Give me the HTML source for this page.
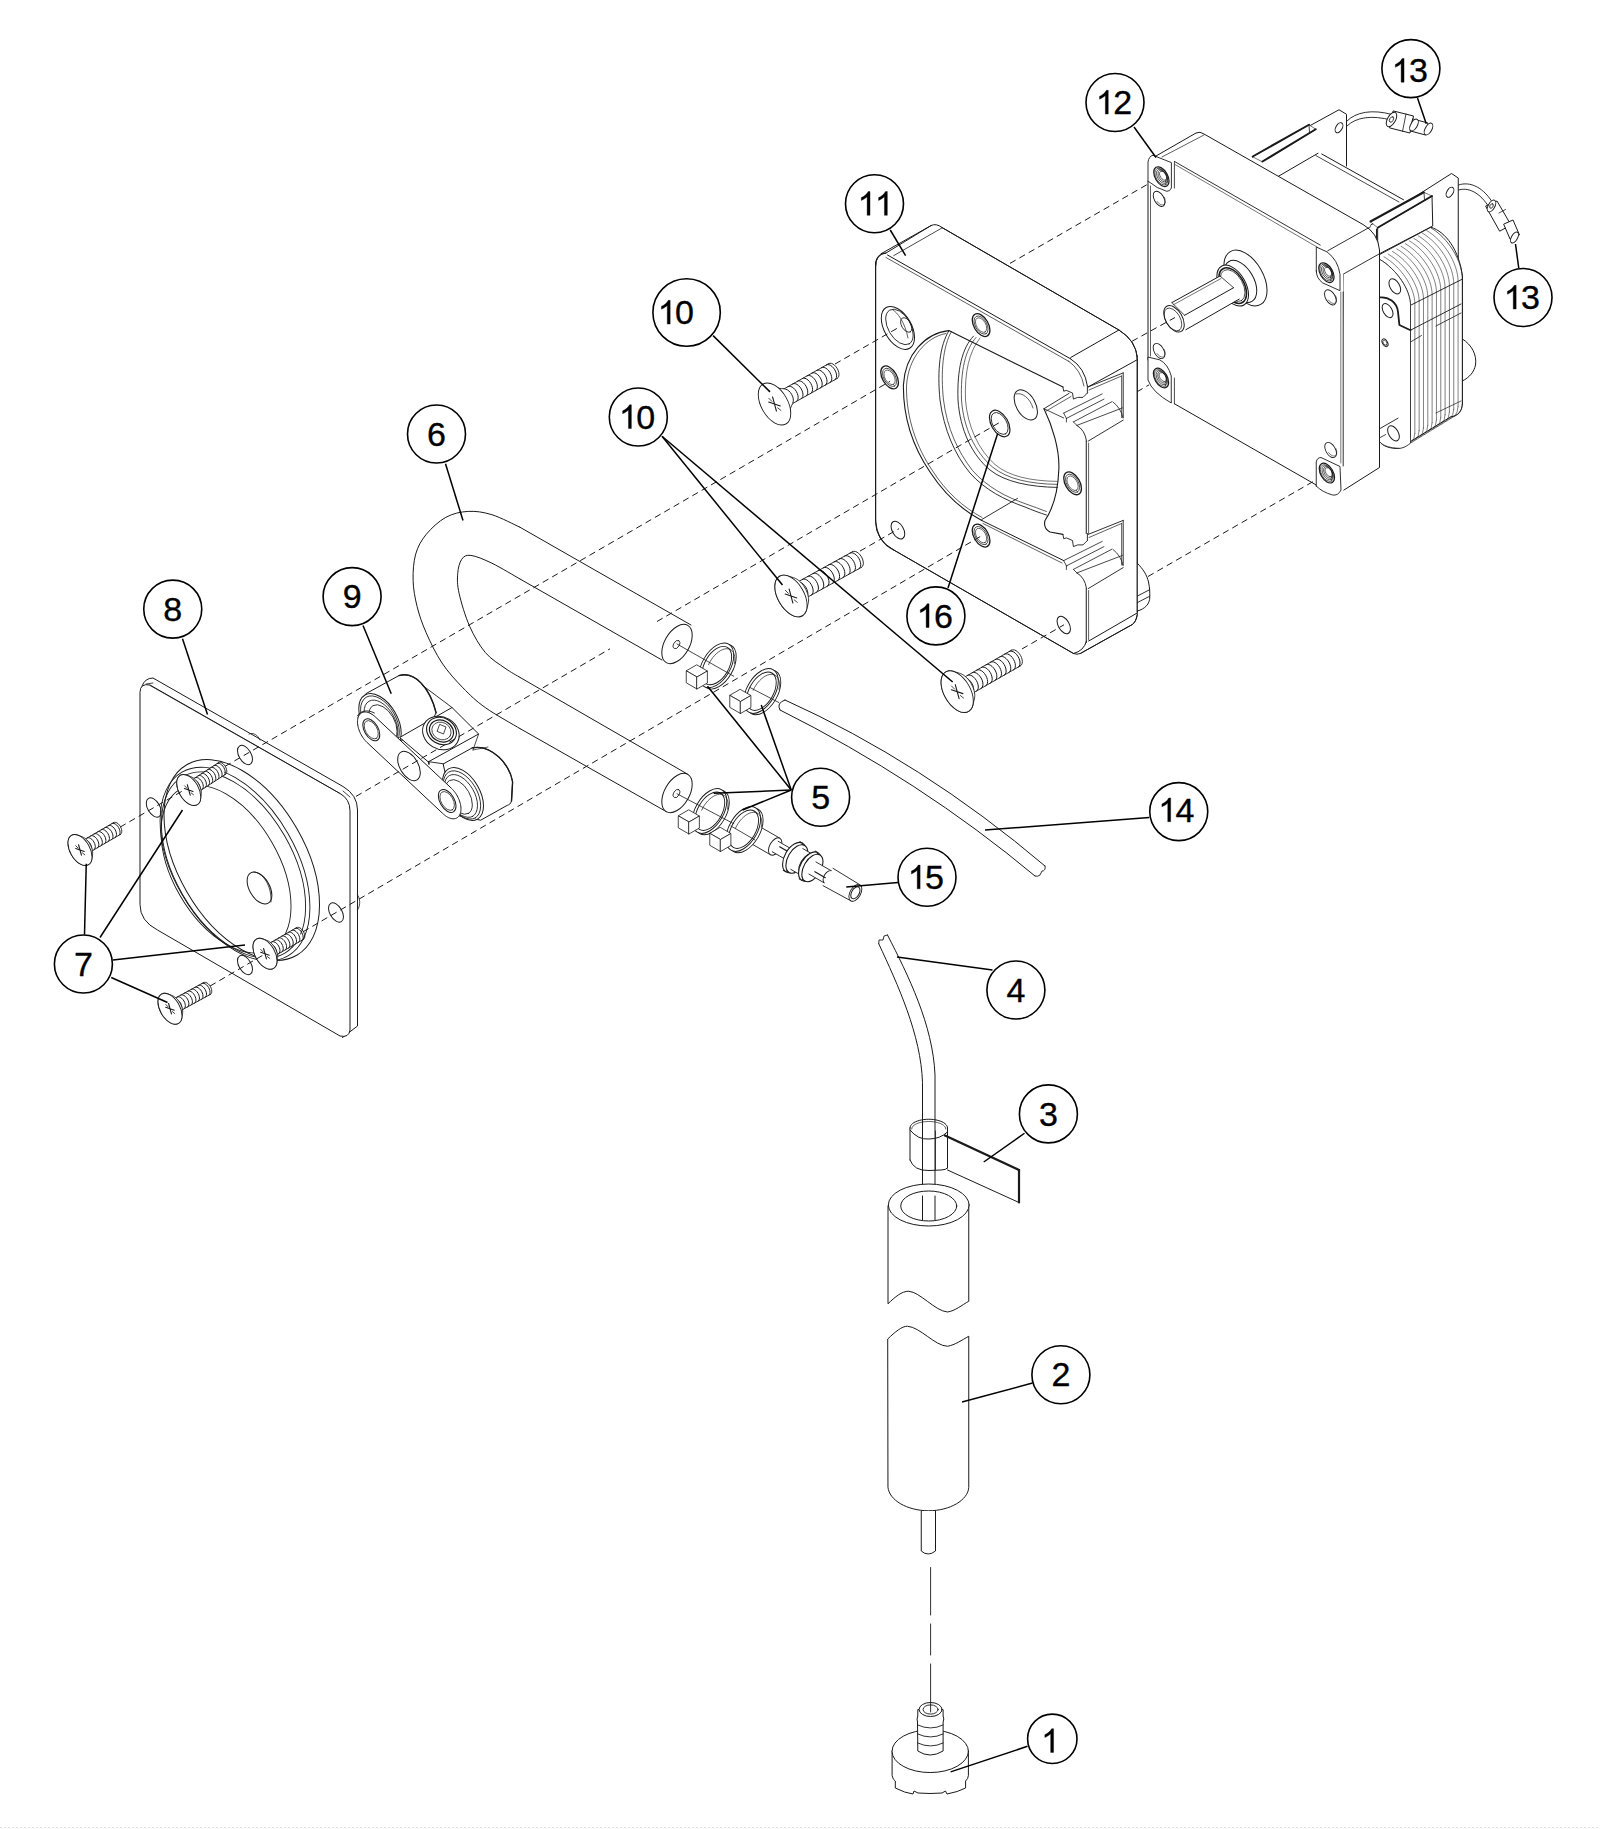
<!DOCTYPE html>
<html><head><meta charset="utf-8"><style>
html,body{margin:0;padding:0;background:#fff;}
body{width:1600px;height:1829px;overflow:hidden;position:relative;}
svg{position:absolute;left:0;top:0;}
.g line,.g polyline,.g path,.g ellipse,.g circle,.g polygon{fill:none;stroke:#1a1a1a;stroke-width:1;stroke-linejoin:round;stroke-linecap:round;}
.g line.d{stroke-dasharray:6.5 4.3;stroke-linecap:butt;}
.c circle{fill:#fff;stroke:#000;stroke-width:1.6;}
.c line{stroke:#000;stroke-width:1.5;}
.c text{font-family:"Liberation Sans",sans-serif;font-size:34px;fill:#000;stroke:#000;stroke-width:0.35px;}
.c polygon.one{fill:#000;stroke:#000;stroke-width:0.35px;}
</style></head><body>
<svg width="1600" height="1829" viewBox="0 0 1600 1829">
<g class="g">
<path d="M1462.4,339 C1472,345 1477,355 1475.5,365 C1474,372 1470,377 1462.4,381" style="fill:#fff"/>
<polygon points="1252.75,157 1339,109.75 1346.5,114.25 1346.5,175 1290,205 1252.75,190" style="stroke:none;fill:#fff"/>
<polyline points="1252.75,157 1339,109.75 1346.5,114.25 1346.5,166"/>
<ellipse cx="1339" cy="127.75" rx="5.5" ry="3.17" transform="rotate(-60 1339 127.75)"/>
<polygon points="1252.75,156.5 1309,124.75 1315.75,129.25 1262.5,161.5" style="stroke-width:0.6;fill:#fff"/>
<line x1="1252.75" y1="156.5" x2="1309" y2="124.75" style="stroke-width:2"/>
<line x1="1262.5" y1="161.5" x2="1315.75" y2="129.25" style="stroke-width:2"/>
<line x1="1309" y1="124.75" x2="1309.5" y2="132" style="stroke-width:0.8"/>
<path d="M1347,121 C1356,112 1372,109 1392,114.5" style="stroke-width:0.9"/>
<path d="M1347,126 C1356,117 1372,115 1391,120" style="stroke-width:0.9"/>
<polygon points="1393.5,111 1413.5,116 1410,133 1390,128" style="fill:#fff"/>
<ellipse cx="1391.5" cy="119.5" rx="8" ry="4" transform="rotate(-60 1391.5 119.5)" style="fill:#fff"/>
<ellipse cx="1391.5" cy="119.5" rx="3" ry="1.8" transform="rotate(-60 1391.5 119.5)" style="stroke-width:0.8"/>
<line x1="1406" y1="114" x2="1402.5" y2="131.5" style="stroke-width:0.8"/>
<polygon points="1413,119 1428,123 1425.5,135 1410.5,131" style="fill:#fff"/>
<ellipse cx="1414" cy="125" rx="6.5" ry="3.25" transform="rotate(-60 1414 125)" style="fill:#fff"/>
<ellipse cx="1428.5" cy="129" rx="6.5" ry="3.25" transform="rotate(-60 1428.5 129)" style="fill:#fff"/>
<polygon points="1276.75,177.25 1318,153.25 1321.75,154 1403.5,199.75 1403.5,250 1290,250" style="stroke:none;fill:#fff"/>
<line x1="1276.75" y1="177.25" x2="1318" y2="153.25"/>
<line x1="1321.75" y1="154" x2="1403.5" y2="199.75"/>
<line x1="1315.75" y1="155.5" x2="1399" y2="202" style="stroke-width:0.8"/>
<polygon points="1370.5,225.25 1451.5,173.5 1458.25,178 1458.25,430 1376.5,445" style="stroke:none;fill:#fff"/>
<polyline points="1370.5,225.25 1451.5,173.5 1458.25,178 1458.25,300"/>
<line x1="1376.5" y1="229" x2="1376.5" y2="256"/>
<ellipse cx="1450" cy="192.25" rx="5.5" ry="3.17" transform="rotate(-60 1450 192.25)"/>
<path d="M1458.5,185 C1470,181 1484,187 1494,205" style="stroke-width:0.9"/>
<path d="M1458.5,190 C1468,187 1480,192 1489.5,208" style="stroke-width:0.9"/>
<polygon points="1486,206 1497,201 1511,225 1500,231" style="fill:#fff"/>
<ellipse cx="1491.5" cy="206" rx="6.5" ry="3.25" transform="rotate(-60 1491.5 206)" style="fill:#fff"/>
<ellipse cx="1491.5" cy="206" rx="2.5" ry="1.5" transform="rotate(-60 1491.5 206)" style="stroke-width:0.8"/>
<line x1="1499" y1="213" x2="1505.5" y2="209.5" style="stroke-width:0.8"/>
<polygon points="1504,224 1513,220 1519.5,235 1510.5,239" style="fill:#fff"/>
<ellipse cx="1514.5" cy="237.5" rx="6" ry="3" transform="rotate(-60 1514.5 237.5)" style="fill:#fff"/>
<polygon points="1378,227.5 1432,196 1432.75,226 1378,254.5" style="fill:#fff"/>
<polygon points="1370.5,221.5 1423.75,192.25 1432,196 1378,227.5" style="stroke-width:0.6;fill:#fff"/>
<line x1="1370.5" y1="221.5" x2="1423.75" y2="192.25" style="stroke-width:2"/>
<line x1="1378" y1="227.5" x2="1432" y2="196" style="stroke-width:2"/>
<line x1="1424" y1="192.5" x2="1424.5" y2="199.5" style="stroke-width:0.8"/>
<path d="M1379.7,254.5 L1430.9,227.2 C1446,232 1459,250 1462.4,276 L1462.4,404 C1462,411 1458,416 1450.5,417 L1399.4,448.3 C1390,449 1383,446 1379.7,442 Z" style="fill:#fff"/>
<path d="M1379.7,259.4 C1396.64,269.18 1410.5,289.84 1410.5,305.3" style="stroke-width:0.7"/>
<line x1="1410.5" y1="305.3" x2="1410.5" y2="436" style="stroke-width:0.55"/>
<path d="M1410.5,436 Q1410,447.8 1399.4,448.3" style="stroke-width:0.55"/>
<path d="M1383.97,256.77 C1400.94,266.57 1414.83,287.43 1414.83,303.12" style="stroke-width:0.55"/>
<line x1="1414.83" y1="303.12" x2="1414.83" y2="433.33" style="stroke-width:0.55"/>
<path d="M1414.83,433.33 Q1414.33,445.18 1403.66,445.68" style="stroke-width:0.55"/>
<path d="M1388.23,254.15 C1405.24,263.97 1419.15,285.02 1419.15,300.93" style="stroke-width:0.55"/>
<line x1="1419.15" y1="300.93" x2="1419.15" y2="430.67" style="stroke-width:0.55"/>
<path d="M1419.15,430.67 Q1418.65,442.57 1407.92,443.07" style="stroke-width:0.55"/>
<path d="M1392.5,251.52 C1409.54,261.36 1423.47,282.61 1423.47,298.75" style="stroke-width:0.55"/>
<line x1="1423.47" y1="298.75" x2="1423.47" y2="428" style="stroke-width:0.55"/>
<path d="M1423.47,428 Q1422.97,439.95 1412.18,440.45" style="stroke-width:0.55"/>
<path d="M1396.77,248.9 C1413.84,258.75 1427.8,280.2 1427.8,296.57" style="stroke-width:0.55"/>
<line x1="1427.8" y1="296.57" x2="1427.8" y2="425.33" style="stroke-width:0.55"/>
<path d="M1427.8,425.33 Q1427.3,437.33 1416.43,437.83" style="stroke-width:0.55"/>
<path d="M1401.03,246.27 C1418.13,256.15 1432.12,277.8 1432.12,294.38" style="stroke-width:0.55"/>
<line x1="1432.12" y1="294.38" x2="1432.12" y2="422.67" style="stroke-width:0.55"/>
<path d="M1432.12,422.67 Q1431.62,434.72 1420.69,435.22" style="stroke-width:0.55"/>
<path d="M1405.3,243.65 C1422.43,253.54 1436.45,275.39 1436.45,292.2" style="stroke-width:0.55"/>
<line x1="1436.45" y1="292.2" x2="1436.45" y2="420" style="stroke-width:0.55"/>
<path d="M1436.45,420 Q1435.95,432.1 1424.95,432.6" style="stroke-width:0.55"/>
<path d="M1409.57,241.02 C1426.73,250.94 1440.78,272.98 1440.78,290.02" style="stroke-width:0.55"/>
<line x1="1440.78" y1="290.02" x2="1440.78" y2="417.33" style="stroke-width:0.55"/>
<path d="M1440.78,417.33 Q1440.28,429.48 1429.21,429.98" style="stroke-width:0.55"/>
<path d="M1413.83,238.4 C1431.03,248.33 1445.1,270.57 1445.1,287.83" style="stroke-width:0.55"/>
<line x1="1445.1" y1="287.83" x2="1445.1" y2="414.67" style="stroke-width:0.55"/>
<path d="M1445.1,414.67 Q1444.6,426.87 1433.47,427.37" style="stroke-width:0.55"/>
<path d="M1418.1,235.77 C1435.33,245.72 1449.42,268.17 1449.42,285.65" style="stroke-width:0.55"/>
<line x1="1449.42" y1="285.65" x2="1449.42" y2="412" style="stroke-width:0.55"/>
<path d="M1449.42,412 Q1448.92,424.25 1437.73,424.75" style="stroke-width:0.55"/>
<path d="M1422.37,233.15 C1439.63,243.12 1453.75,265.76 1453.75,283.47" style="stroke-width:0.55"/>
<line x1="1453.75" y1="283.47" x2="1453.75" y2="409.33" style="stroke-width:0.55"/>
<path d="M1453.75,409.33 Q1453.25,421.63 1441.98,422.13" style="stroke-width:0.55"/>
<path d="M1426.63,230.52 C1443.93,240.51 1458.08,263.35 1458.08,281.28" style="stroke-width:0.55"/>
<line x1="1458.08" y1="281.28" x2="1458.08" y2="406.67" style="stroke-width:0.55"/>
<path d="M1458.08,406.67 Q1457.58,419.02 1446.24,419.52" style="stroke-width:0.55"/>
<path d="M1430.9,227.9 C1448.23,237.9 1462.4,260.94 1462.4,279.1" style="stroke-width:0.7"/>
<line x1="1462.4" y1="279.1" x2="1462.4" y2="404" style="stroke-width:0.55"/>
<path d="M1462.4,404 Q1461.9,416.4 1450.5,416.9" style="stroke-width:0.55"/>
<line x1="1410.5" y1="305.3" x2="1462.4" y2="279.1" style="stroke-width:0.9"/>
<line x1="1410.5" y1="330.2" x2="1461" y2="304" style="stroke-width:0.9"/>
<line x1="1410.5" y1="342" x2="1421.5" y2="335.5" style="stroke-width:0.8"/>
<line x1="1436" y1="326" x2="1461" y2="313" style="stroke-width:0.8"/>
<line x1="1436" y1="413" x2="1461" y2="401" style="stroke-width:0.7"/>
<path d="M1379.7,259.4 C1396.64,269.19 1410.5,289.84 1410.5,305.3 L1410.5,443 C1405,448 1400,448.3 1399.4,448.3 C1390,448 1383,446 1379.7,441.8 Z" style="stroke-width:0.8;fill:#fff"/>
<path d="M1379.7,297.4 C1388,296.5 1397,302 1398,311.9 L1399.4,325 L1410.5,330.2" style="stroke-width:1.8"/>
<ellipse cx="1394.8" cy="286.3" rx="8.3" ry="4.79" transform="rotate(60 1394.8 286.3)"/>
<ellipse cx="1387.6" cy="310.6" rx="7.7" ry="4.44" transform="rotate(60 1387.6 310.6)"/>
<ellipse cx="1385" cy="342.7" rx="4.2" ry="2.42" transform="rotate(60 1385 342.7)"/>
<ellipse cx="1385" cy="342.7" rx="2.8" ry="1.62" transform="rotate(60 1385 342.7)" style="stroke-width:0.6"/>
<ellipse cx="1393.5" cy="433.3" rx="8.3" ry="4.79" transform="rotate(60 1393.5 433.3)"/>
<line x1="1379.7" y1="428.7" x2="1398" y2="418.2" style="stroke-width:0.9"/>
<line x1="1379.7" y1="437.8" x2="1385.6" y2="434.6" style="stroke-width:0.8"/>
<path d="M1156,156 L1196,133 Q1200,131 1204,134 L1363,224.5 Q1378,233 1379.5,250 L1379.5,467.5 L1340,492.5 L1343.5,274 Z" style="fill:#fff"/>
<line x1="1327.75" y1="250.75" x2="1370.5" y2="226.75" style="stroke-width:0.9"/>
<line x1="1343.5" y1="274" x2="1379.5" y2="253.75" style="stroke-width:0.9"/>
<line x1="1162" y1="157" x2="1204" y2="135" style="stroke-width:0.7"/>
<path d="M1148,170 Q1148,156 1156,156 L1343.5,265 L1343.5,494 Q1338,499 1330,496 L1158,396 Q1148,391 1148,381 Z" style="stroke:none;fill:#fff"/>
<line x1="1148" y1="181" x2="1148" y2="360"/>
<line x1="1150.5" y1="186" x2="1150.5" y2="356" style="stroke-width:0.7"/>
<line x1="1174.4" y1="161.4" x2="1320.25" y2="245.1" style="stroke-width:0.9"/>
<line x1="1175" y1="164.5" x2="1318" y2="247.6" style="stroke-width:0.6"/>
<line x1="1174.4" y1="403.75" x2="1316.25" y2="485"/>
<line x1="1343.2" y1="292" x2="1343.2" y2="466" style="stroke-width:0.9"/>
<line x1="1340.8" y1="292" x2="1340.8" y2="463" style="stroke-width:0.6"/>
<path d="M1148,181 L1148,162 Q1149,156 1153,155.3 L1171.4,162.6 L1171.4,188 Q1170,191.5 1166.8,191.3 Q1156,188 1150.7,183 Z" style="stroke-width:0.9;fill:#fff"/>
<line x1="1174.4" y1="162" x2="1174.4" y2="188" style="stroke-width:0.8"/>
<path d="M1148,357.5 L1148,380 Q1152,392 1171.25,403 L1171.25,376 Q1168,364 1160,360 Z" style="stroke-width:0.9;fill:#fff"/>
<line x1="1174.4" y1="378" x2="1174.4" y2="403.75" style="stroke-width:0.8"/>
<path d="M1316.3,271 L1316.3,247 L1327,251.9 Q1338,260 1340,274.4 L1340,290.7 L1322.5,282.8 Q1316.3,278 1316.3,271 Z" style="stroke-width:0.9;fill:#fff"/>
<path d="M1316.25,486 L1316.25,462 Q1317,457.5 1321,457.5 L1340,466.5 L1341,490 Q1338,496 1332.5,495 Q1322,492 1316.25,486 Z" style="stroke-width:0.9;fill:#fff"/>
<ellipse cx="1161.4" cy="176.7" rx="10.8" ry="6.23" transform="rotate(60 1161.4 176.7)" style="stroke-width:1.2"/>
<ellipse cx="1161.4" cy="176.7" rx="9.2" ry="5.31" transform="rotate(60 1161.4 176.7)" style="stroke-width:0.65"/>
<ellipse cx="1162" cy="176.4" rx="7.8" ry="4.5" transform="rotate(60 1162 176.4)" style="stroke-width:0.65"/>
<ellipse cx="1162.6" cy="176.1" rx="6.4" ry="3.69" transform="rotate(60 1162.6 176.1)" style="stroke-width:0.65"/>
<ellipse cx="1163.2" cy="175.8" rx="5" ry="2.88" transform="rotate(60 1163.2 175.8)" style="stroke-width:0.65"/>
<ellipse cx="1161" cy="378" rx="10.8" ry="6.23" transform="rotate(60 1161 378)" style="stroke-width:1.2"/>
<ellipse cx="1161" cy="378" rx="9.2" ry="5.31" transform="rotate(60 1161 378)" style="stroke-width:0.65"/>
<ellipse cx="1161.6" cy="377.7" rx="7.8" ry="4.5" transform="rotate(60 1161.6 377.7)" style="stroke-width:0.65"/>
<ellipse cx="1162.2" cy="377.4" rx="6.4" ry="3.69" transform="rotate(60 1162.2 377.4)" style="stroke-width:0.65"/>
<ellipse cx="1162.8" cy="377.1" rx="5" ry="2.88" transform="rotate(60 1162.8 377.1)" style="stroke-width:0.65"/>
<ellipse cx="1326.4" cy="272.7" rx="10.8" ry="6.23" transform="rotate(60 1326.4 272.7)" style="stroke-width:1.2"/>
<ellipse cx="1326.4" cy="272.7" rx="9.2" ry="5.31" transform="rotate(60 1326.4 272.7)" style="stroke-width:0.65"/>
<ellipse cx="1327" cy="272.4" rx="7.8" ry="4.5" transform="rotate(60 1327 272.4)" style="stroke-width:0.65"/>
<ellipse cx="1327.6" cy="272.1" rx="6.4" ry="3.69" transform="rotate(60 1327.6 272.1)" style="stroke-width:0.65"/>
<ellipse cx="1328.2" cy="271.8" rx="5" ry="2.88" transform="rotate(60 1328.2 271.8)" style="stroke-width:0.65"/>
<ellipse cx="1326.9" cy="473.1" rx="10.8" ry="6.23" transform="rotate(60 1326.9 473.1)" style="stroke-width:1.2"/>
<ellipse cx="1326.9" cy="473.1" rx="9.2" ry="5.31" transform="rotate(60 1326.9 473.1)" style="stroke-width:0.65"/>
<ellipse cx="1327.5" cy="472.8" rx="7.8" ry="4.5" transform="rotate(60 1327.5 472.8)" style="stroke-width:0.65"/>
<ellipse cx="1328.1" cy="472.5" rx="6.4" ry="3.69" transform="rotate(60 1328.1 472.5)" style="stroke-width:0.65"/>
<ellipse cx="1328.7" cy="472.2" rx="5" ry="2.88" transform="rotate(60 1328.7 472.2)" style="stroke-width:0.65"/>
<ellipse cx="1159.1" cy="198.9" rx="8.3" ry="4.79" transform="rotate(60 1159.1 198.9)" style="stroke-width:0.9"/>
<polyline points="1164.33,197.32 1164.98,199.18 1165.25,200.97 1165.13,202.55 1164.61,203.8 1163.75,204.62 1162.6,204.96 1161.26,204.78 1159.83,204.1 1158.42,202.96 1157.14,201.47" style="stroke-width:0.6"/>
<ellipse cx="1159" cy="351" rx="8.3" ry="4.79" transform="rotate(60 1159 351)" style="stroke-width:0.9"/>
<polyline points="1164.23,349.42 1164.88,351.28 1165.15,353.07 1165.03,354.65 1164.51,355.9 1163.65,356.72 1162.5,357.06 1161.16,356.88 1159.73,356.2 1158.32,355.06 1157.04,353.57" style="stroke-width:0.6"/>
<ellipse cx="1330.4" cy="297.4" rx="8.3" ry="4.79" transform="rotate(60 1330.4 297.4)" style="stroke-width:0.9"/>
<polyline points="1335.63,295.82 1336.28,297.68 1336.55,299.47 1336.43,301.05 1335.91,302.3 1335.05,303.12 1333.9,303.46 1332.56,303.28 1331.13,302.6 1329.72,301.46 1328.44,299.97" style="stroke-width:0.6"/>
<ellipse cx="1330.6" cy="450" rx="8.3" ry="4.79" transform="rotate(60 1330.6 450)" style="stroke-width:0.9"/>
<polyline points="1335.83,448.42 1336.48,450.28 1336.75,452.07 1336.63,453.65 1336.11,454.9 1335.25,455.72 1334.1,456.06 1332.76,455.88 1331.33,455.2 1329.92,454.06 1328.64,452.57" style="stroke-width:0.6"/>
<ellipse cx="1245.5" cy="278" rx="30.5" ry="17.6" transform="rotate(60 1245.5 278)" style="fill:#fff"/>
<ellipse cx="1240.5" cy="281.4" rx="23" ry="13.27" transform="rotate(60 1240.5 281.4)" style="fill:#fff"/>
<ellipse cx="1232.7" cy="285.6" rx="22.4" ry="12.92" transform="rotate(60 1232.7 285.6)" style="fill:#fff"/>
<ellipse cx="1232.7" cy="285.6" rx="19.5" ry="11.25" transform="rotate(60 1232.7 285.6)" style="stroke-width:1.6"/>
<ellipse cx="1232.7" cy="285.6" rx="17.5" ry="10.1" transform="rotate(60 1232.7 285.6)" style="stroke-width:0.7"/>
<polygon points="1171.9,302.6 1220,276 1239.2,299.1 1185.9,329.7" style="stroke:none;fill:#fff"/>
<line x1="1171.9" y1="302.6" x2="1220" y2="276"/>
<line x1="1173" y1="305" x2="1221" y2="278.5" style="stroke-width:0.6"/>
<line x1="1185.9" y1="329.7" x2="1239.2" y2="299.1"/>
<line x1="1184.6" y1="315.3" x2="1233.6" y2="287.7"/>
<line x1="1220" y1="276" x2="1233.6" y2="287.7" style="stroke-width:0.8"/>
<ellipse cx="1174" cy="318.8" rx="14.5" ry="8.37" transform="rotate(60 1174 318.8)" style="fill:#fff"/>
<ellipse cx="1173" cy="319.5" rx="12.5" ry="7.21" transform="rotate(60 1173 319.5)" style="stroke-width:0.7"/>
<line x1="1171.9" y1="302.6" x2="1184.6" y2="315.3" style="stroke-width:0.8"/>
<path d="M875.6,266 Q875.6,254 886,253 L931,225.6 Q936,223 942,227.5 L1118.9,330 Q1137.25,341 1137.25,360 L1137.25,614.75 Q1136,622 1132.3,624.5 L1080.5,653.4 Q1077,655 1073.5,653.5 L893.75,550 Q875.6,540 875.6,522 Z" style="fill:#fff"/>
<path d="M1137.3,563.2 C1143,569 1147,575 1148.5,582 C1149.8,588 1149.8,592 1149.8,597 C1149.8,604 1145,609 1137.5,611" style="fill:#fff"/>
<line x1="1137.5" y1="596" x2="1149.4" y2="589.8" style="stroke-width:0.9"/>
<line x1="1137.5" y1="602.5" x2="1149.4" y2="596.4" style="stroke-width:0.9"/>
<line x1="881" y1="253.75" x2="931" y2="225.6"/>
<line x1="893.75" y1="255.6" x2="941.9" y2="228" style="stroke-width:0.8"/>
<line x1="941.9" y1="227.5" x2="1118.9" y2="330"/>
<path d="M1118.9,330 Q1135,340 1137.25,356.2"/>
<line x1="1070.7" y1="357.5" x2="1118.9" y2="330"/>
<line x1="887.5" y1="255" x2="1070.7" y2="358.9"/>
<line x1="886" y1="257.5" x2="1069" y2="361.5" style="stroke-width:0.7"/>
<path d="M1070.7,358.9 Q1085,368 1087.4,386" style="stroke-width:1"/>
<path d="M1068.5,361 Q1081,370 1084,386" style="stroke-width:0.7"/>
<line x1="1137.25" y1="356" x2="1137.25" y2="612"/>
<line x1="1088.2" y1="386.9" x2="1137.25" y2="359.7"/>
<line x1="1088.75" y1="641" x2="1136.75" y2="613.25"/>
<path d="M1080.5,653.4 L1132.3,624.5 Q1136,622 1137.3,614.75"/>
<path d="M875.6,266 Q875.6,254 886,253" style="stroke-width:1.1"/>
<line x1="875.6" y1="262" x2="875.6" y2="520" style="stroke-width:1.1"/>
<path d="M875.6,520 Q877,542 893.75,550" style="stroke-width:1.1"/>
<line x1="893.75" y1="550" x2="1073.5" y2="653.5"/>
<path d="M1073.5,653.5 Q1084,651 1086.5,641"/>
<line x1="1086.25" y1="441" x2="1086.25" y2="533.5"/>
<line x1="1088.6" y1="443" x2="1088.6" y2="533.5" style="stroke-width:0.7"/>
<line x1="1086.25" y1="588.5" x2="1086.25" y2="642.5"/>
<line x1="1088.6" y1="590.5" x2="1088.6" y2="640" style="stroke-width:0.7"/>
<polyline points="1062.9,386.9 1063.7,391.2 1066.4,390.4 1072.5,393 1073.4,399.1 1077.7,397.4 1083,397.4 1087.4,393" style="stroke-width:0.9"/>
<line x1="1087.4" y1="386" x2="1087.4" y2="393" style="stroke-width:0.9"/>
<line x1="1088.2" y1="386.9" x2="1123.2" y2="372.9" style="stroke-width:0.9"/>
<line x1="1089" y1="390" x2="1121.5" y2="376" style="stroke-width:0.7"/>
<line x1="1123.2" y1="372.9" x2="1123.2" y2="417.5" style="stroke-width:0.9"/>
<line x1="1121.6" y1="376" x2="1121.6" y2="417.5" style="stroke-width:0.7"/>
<line x1="1044" y1="408.7" x2="1069" y2="393.4" style="stroke-width:0.9"/>
<line x1="1046.2" y1="411" x2="1071" y2="396.5" style="stroke-width:0.7"/>
<line x1="1044" y1="408.7" x2="1063.7" y2="418" style="stroke-width:0.8"/>
<polyline points="1063.7,413.1 1102.2,393.9" style="stroke-width:0.8"/>
<polyline points="1066.4,418.4 1104,399.1" style="stroke-width:0.8"/>
<polyline points="1073.4,421.9 1111.9,401.7" style="stroke-width:0.8"/>
<polyline points="1076.9,425.4 1122.4,407.9" style="stroke-width:0.8"/>
<line x1="1063.7" y1="413.1" x2="1066.4" y2="418.4" style="stroke-width:0.8"/>
<line x1="1066.4" y1="418.4" x2="1066.4" y2="422" style="stroke-width:0.8"/>
<line x1="1073.4" y1="421.9" x2="1076.9" y2="425.4" style="stroke-width:0.8"/>
<path d="M1076.9,425.4 Q1085,430 1086.5,441" style="stroke-width:0.9"/>
<line x1="1088.2" y1="441.1" x2="1123.2" y2="420.1" style="stroke-width:0.9"/>
<path d="M1113,402 Q1121,408 1123,418" style="stroke-width:0.8"/>
<path d="M1044,408.7 C1052,425 1060,450 1058.8,470 C1058,492 1052,510 1045,520.5 Q1043,528 1050,532 L1062.9,534.4" style="stroke-width:1.1"/>
<polyline points="1062.9,534.4 1063.7,538.7 1066.4,537.9 1072.5,540.5 1073.4,546.6 1077.7,544.9 1083,544.9 1087.4,540.5" style="stroke-width:0.9"/>
<line x1="1087.4" y1="533.5" x2="1087.4" y2="540.5" style="stroke-width:0.9"/>
<line x1="1088.2" y1="534.4" x2="1123.2" y2="520.4" style="stroke-width:0.9"/>
<line x1="1089" y1="537.5" x2="1121.5" y2="523.5" style="stroke-width:0.7"/>
<line x1="1123.2" y1="520.4" x2="1123.2" y2="565" style="stroke-width:0.9"/>
<line x1="1121.6" y1="523.5" x2="1121.6" y2="565" style="stroke-width:0.7"/>
<polyline points="1063.7,560.6 1102.2,541.4" style="stroke-width:0.8"/>
<polyline points="1066.4,565.9 1104,546.6" style="stroke-width:0.8"/>
<polyline points="1073.4,569.4 1111.9,549.2" style="stroke-width:0.8"/>
<polyline points="1076.9,572.9 1122.4,555.4" style="stroke-width:0.8"/>
<line x1="1063.7" y1="560.6" x2="1066.4" y2="565.9" style="stroke-width:0.8"/>
<line x1="1066.4" y1="565.9" x2="1066.4" y2="569.5" style="stroke-width:0.8"/>
<line x1="1073.4" y1="569.4" x2="1076.9" y2="572.9" style="stroke-width:0.8"/>
<path d="M1076.9,572.9 Q1085,577.5 1086.5,588.5" style="stroke-width:0.9"/>
<line x1="1088.2" y1="588.6" x2="1123.2" y2="567.6" style="stroke-width:0.9"/>
<path d="M1113,549.5 Q1121,555.5 1123,565.5" style="stroke-width:0.8"/>
<path d="M948.8,330.6 C925,333 905,355 903.4,385 C903,420 915,450 930,472 C945,495 962,510 981.8,520.5" style="stroke-width:1.1"/>
<path d="M946,333.5 C926,337 908,358 906.5,386 C906,418 917,448 932,470 C946,492 963,507 982,517.5" style="stroke-width:0.7"/>
<line x1="948.8" y1="330.6" x2="1063" y2="387" style="stroke-width:1.1"/>
<line x1="981.8" y1="520.5" x2="1063.7" y2="560.6" style="stroke-width:1"/>
<line x1="983" y1="523.5" x2="1062" y2="563" style="stroke-width:0.7"/>
<line x1="981.8" y1="519.5" x2="1017.5" y2="498.4" style="stroke-width:0.9"/>
<path d="M948.8,331 C940,345 937,370 940,400 C944,430 955,455 970,473 C985,490 1005,500 1025,507 C1032,510 1040,513 1046.4,515" style="stroke-width:0.9"/>
<path d="M951.5,331.5 C943,346 940.5,372 943.5,400 C947,428 958,452 972.5,470.5 C987,487 1006,497 1026,504 C1033,506.5 1040,509 1046.4,511.5" style="stroke-width:0.7"/>
<path d="M973.5,336.1 C962,348 957,370 958,400 C960,430 972,455 990,470 C1005,482 1030,487 1057.4,487.4" style="stroke-width:0.9"/>
<path d="M976,337.5 C965,350 960.5,371 961.5,400 C963.5,428 975,452 992.5,467 C1007,479 1030,484 1057.4,484.4" style="stroke-width:0.7"/>
<path d="M980,338 C969,352 964.5,372 965.5,400 C967.5,426 978.5,450 995,464.5 C1009,476.5 1031,481 1057.4,481.4" style="stroke-width:0.6"/>
<ellipse cx="999.7" cy="423.5" rx="14.5" ry="8.37" transform="rotate(60 999.7 423.5)" style="stroke-width:1.2"/>
<ellipse cx="999.7" cy="423.5" rx="12" ry="6.92" transform="rotate(60 999.7 423.5)" style="stroke-width:0.8"/>
<ellipse cx="1025.8" cy="404.9" rx="16.5" ry="9.52" transform="rotate(60 1025.8 404.9)"/>
<path d="M1016,394 C1022,392 1030,398 1033,408" style="stroke-width:0.7"/>
<ellipse cx="981.1" cy="325.1" rx="12.5" ry="7.21" transform="rotate(60 981.1 325.1)" style="stroke-width:1.3"/>
<ellipse cx="981.1" cy="325.1" rx="10" ry="5.77" transform="rotate(60 981.1 325.1)" style="stroke-width:0.7"/>
<ellipse cx="981.1" cy="325.1" rx="8" ry="4.62" transform="rotate(60 981.1 325.1)" style="stroke-width:0.6"/>
<ellipse cx="889.6" cy="377.4" rx="12.5" ry="7.21" transform="rotate(60 889.6 377.4)" style="stroke-width:1.3"/>
<ellipse cx="889.6" cy="377.4" rx="10" ry="5.77" transform="rotate(60 889.6 377.4)" style="stroke-width:0.7"/>
<ellipse cx="889.6" cy="377.4" rx="8" ry="4.62" transform="rotate(60 889.6 377.4)" style="stroke-width:0.6"/>
<ellipse cx="1072.6" cy="483.3" rx="12.5" ry="7.21" transform="rotate(60 1072.6 483.3)" style="stroke-width:1.3"/>
<ellipse cx="1072.6" cy="483.3" rx="10" ry="5.77" transform="rotate(60 1072.6 483.3)" style="stroke-width:0.7"/>
<ellipse cx="1072.6" cy="483.3" rx="8" ry="4.62" transform="rotate(60 1072.6 483.3)" style="stroke-width:0.6"/>
<ellipse cx="981.1" cy="535.6" rx="12.5" ry="7.21" transform="rotate(60 981.1 535.6)" style="stroke-width:1.3"/>
<ellipse cx="981.1" cy="535.6" rx="10" ry="5.77" transform="rotate(60 981.1 535.6)" style="stroke-width:0.7"/>
<ellipse cx="981.1" cy="535.6" rx="8" ry="4.62" transform="rotate(60 981.1 535.6)" style="stroke-width:0.6"/>
<ellipse cx="897.9" cy="530.1" rx="9.7" ry="5.6" transform="rotate(60 897.9 530.1)"/>
<ellipse cx="1063.75" cy="625" rx="9.5" ry="5.48" transform="rotate(60 1063.75 625)"/>
<ellipse cx="897.9" cy="327.9" rx="23.5" ry="13.56" transform="rotate(60 897.9 327.9)" style="stroke-width:1"/>
<ellipse cx="899.5" cy="327" rx="19.5" ry="11.25" transform="rotate(60 899.5 327)" style="stroke-width:0.8"/>
<path d="M893,310 C897,312 905,322 908,338" style="stroke-width:0.7"/>
<ellipse cx="906.25" cy="325" rx="8" ry="4.62" transform="rotate(60 906.25 325)" style="stroke-width:0.8"/>
<path d="M691,625 C662.48,608.7 553.08,545.58 519.9,527.2 C486.72,508.82 500.52,517.33 491.9,514.7 C483.28,512.07 475.87,510.97 468.2,511.4 C460.53,511.83 452.9,513.47 445.9,517.3 C438.9,521.13 431.23,528.27 426.2,534.4 C421.17,540.53 417.88,546.45 415.7,554.1 C413.52,561.75 412.87,571.57 413.1,580.3 C413.33,589.03 414.92,597.75 417.1,606.5 C419.28,615.25 422.05,623.38 426.2,632.8 C430.35,642.22 435.87,653.82 442,663 C448.13,672.18 455.78,680.47 463,687.9 C470.22,695.33 475.8,700.82 485.3,707.6 C494.8,714.38 489.84,711.27 520,728.6 C550.16,745.93 641.88,797.77 666.25,811.6 L688,774.4 688,774.4 C660,758.23 550.5,695.1 520,677.4 C489.5,659.7 510.78,672.35 505,668.2 C499.22,664.05 491.2,659.5 485.3,652.5 C479.4,645.5 473.97,636.05 469.6,626.2 C465.23,616.35 461.08,602.15 459.1,593.4 C457.12,584.65 457.27,579.38 457.7,573.7 C458.13,568.02 459.5,562.35 461.7,559.3 C463.9,556.25 465.87,554.75 470.9,555.4 C475.93,556.05 483.72,559.27 491.9,563.2 C500.08,567.13 491.65,562.87 520,579 C548.35,595.13 638.33,646.5 662,660 Z" style="stroke:none;fill:#fff"/>
<path d="M519.9,527.2 C515.23,525.12 500.52,517.33 491.9,514.7 C483.28,512.07 475.87,510.97 468.2,511.4 C460.53,511.83 452.9,513.47 445.9,517.3 C438.9,521.13 431.23,528.27 426.2,534.4 C421.17,540.53 417.88,546.45 415.7,554.1 C413.52,561.75 412.87,571.57 413.1,580.3 C413.33,589.03 414.92,597.75 417.1,606.5 C419.28,615.25 422.05,623.38 426.2,632.8 C430.35,642.22 435.87,653.82 442,663 C448.13,672.18 455.78,680.47 463,687.9 C470.22,695.33 475.8,700.82 485.3,707.6 C494.8,714.38 514.22,725.1 520,728.6" style="stroke-width:1"/>
<line x1="691" y1="625" x2="519.9" y2="527.2"/>
<line x1="520" y1="728.6" x2="666.25" y2="811.6"/>
<path d="M520,579 C515.32,576.37 500.08,567.13 491.9,563.2 C483.72,559.27 475.93,556.05 470.9,555.4 C465.87,554.75 463.9,556.25 461.7,559.3 C459.5,562.35 458.13,568.02 457.7,573.7 C457.27,579.38 457.12,584.65 459.1,593.4 C461.08,602.15 465.23,616.35 469.6,626.2 C473.97,636.05 479.4,645.5 485.3,652.5 C491.2,659.5 499.22,664.05 505,668.2 C510.78,672.35 517.5,675.87 520,677.4" style="stroke-width:1"/>
<line x1="662" y1="660" x2="520" y2="579"/>
<line x1="520" y1="677.4" x2="688" y2="774.4"/>
<ellipse cx="677" cy="644" rx="21.5" ry="12.4" transform="rotate(-60 677 644)" style="stroke-width:1;fill:#fff"/>
<ellipse cx="676.5" cy="644.5" rx="4.5" ry="2.8" transform="rotate(-60 676.5 644.5)" style="stroke-width:0.8"/>
<ellipse cx="677" cy="793" rx="21.5" ry="12.4" transform="rotate(-60 677 793)" style="stroke-width:1;fill:#fff"/>
<ellipse cx="676.5" cy="793.5" rx="4.5" ry="2.8" transform="rotate(-60 676.5 793.5)" style="stroke-width:0.8"/>
<path d="M142,686 Q145,678 153,678 L343,786.5 Q357.5,795 357.5,810 L357.5,1026 L342.5,1037.5 L340,1036 L140,920 Z" style="stroke:none;fill:#fff"/>
<path d="M142,686 Q145,678 153,678 L343,786.5 Q357.5,795 357.5,810 L357.5,1026 L342.5,1037.5"/>
<line x1="146" y1="684" x2="153" y2="683" style="stroke-width:0.8"/>
<line x1="343" y1="791" x2="350" y2="797" style="stroke-width:0.8"/>
<path d="M140,692 Q140,683 150,685 L340,793.5 Q350,799 350,811 L350,1030 Q349,1038 340,1036 L157.5,930 Q140,921 140,905 Z" style="fill:#fff"/>
<line x1="150" y1="685.5" x2="340" y2="793.5" style="stroke-width:0.7"/>
<ellipse cx="245" cy="755" rx="10.6" ry="6.12" transform="rotate(60 245 755)"/>
<ellipse cx="153.75" cy="807.5" rx="10.6" ry="6.12" transform="rotate(60 153.75 807.5)"/>
<ellipse cx="336" cy="912.5" rx="10.6" ry="6.12" transform="rotate(60 336 912.5)"/>
<ellipse cx="245" cy="965" rx="10.6" ry="6.12" transform="rotate(60 245 965)"/>
<ellipse cx="241.75" cy="860" rx="110" ry="63.47" transform="rotate(60 241.75 860)" style="stroke-width:1"/>
<ellipse cx="235" cy="864" rx="106" ry="61.16" transform="rotate(60 235 864)" style="stroke-width:0.9"/>
<ellipse cx="233.5" cy="865" rx="102" ry="58.85" transform="rotate(60 233.5 865)" style="stroke-width:0.9"/>
<ellipse cx="226" cy="869" rx="92" ry="53.08" transform="rotate(60 226 869)" style="stroke-width:0.9"/>
<ellipse cx="259.5" cy="888" rx="17.5" ry="10.1" transform="rotate(60 259.5 888)"/>
<path d="M254,872 C262,872 272,885 271,902" style="stroke-width:0.8"/>
<path d="M249,734 C253,732 258,735 260,740" style="stroke-width:0.8"/>
<path d="M357.5,895 C360,898 361,905 357.5,910" style="stroke-width:0.8"/>
<polygon points="88.59,852.87 120.4,834.39 113.6,822.61 81.79,841.1" style="stroke:none;fill:#fff"/>
<line x1="88.59" y1="852.87" x2="120.4" y2="834.39" style="stroke-width:0.9"/>
<line x1="81.79" y1="841.1" x2="113.6" y2="822.61" style="stroke-width:0.9"/>
<polyline points="113.6,822.61 114.6,822.3 115.75,822.42 117,822.95 118.24,823.86 119.4,825.08 120.4,826.54 121.16,828.13 121.64,829.75 121.81,831.28 121.64,832.62 121.16,833.68 120.4,834.39" style="stroke-width:0.9"/>
<polyline points="83.56,840.07 84.55,839.76 85.71,839.88 86.95,840.41 88.2,841.32 89.36,842.54 90.35,844 91.12,845.59 91.6,847.2 91.76,848.74 91.6,850.08 91.12,851.14 90.36,851.85" style="stroke-width:1"/>
<polyline points="87.09,838.02 88.09,837.71 89.24,837.82 90.49,838.35 91.73,839.26 92.89,840.49 93.89,841.94 94.65,843.53 95.13,845.15 95.3,846.68 95.13,848.02 94.65,849.09 93.89,849.79" style="stroke-width:1"/>
<polyline points="90.62,835.96 91.62,835.65 92.78,835.77 94.02,836.3 95.27,837.21 96.43,838.43 97.42,839.89 98.19,841.48 98.67,843.1 98.83,844.63 98.67,845.97 98.19,847.03 97.42,847.74" style="stroke-width:1"/>
<polyline points="94.16,833.91 95.15,833.6 96.31,833.72 97.56,834.25 98.8,835.15 99.96,836.38 100.96,837.83 101.72,839.43 102.2,841.04 102.37,842.57 102.2,843.92 101.72,844.98 100.96,845.69" style="stroke-width:1"/>
<polyline points="97.69,831.85 98.69,831.55 99.85,831.66 101.09,832.19 102.34,833.1 103.5,834.32 104.49,835.78 105.26,837.37 105.74,838.99 105.9,840.52 105.74,841.86 105.26,842.92 104.49,843.63" style="stroke-width:1"/>
<polyline points="101.23,829.8 102.22,829.49 103.38,829.61 104.63,830.14 105.87,831.05 107.03,832.27 108.03,833.73 108.79,835.32 109.27,836.93 109.44,838.47 109.27,839.81 108.79,840.87 108.03,841.58" style="stroke-width:1"/>
<polyline points="104.76,827.75 105.76,827.44 106.92,827.55 108.16,828.08 109.41,828.99 110.57,830.22 111.56,831.67 112.33,833.26 112.81,834.88 112.97,836.41 112.81,837.75 112.33,838.82 111.56,839.52" style="stroke-width:1"/>
<polyline points="108.3,825.69 109.29,825.38 110.45,825.5 111.7,826.03 112.94,826.94 114.1,828.16 115.1,829.62 115.86,831.21 116.34,832.83 116.5,834.36 116.34,835.7 115.86,836.76 115.1,837.47" style="stroke-width:1"/>
<polyline points="111.83,823.64 112.83,823.33 113.99,823.45 115.23,823.98 116.48,824.88 117.63,826.11 118.63,827.57 119.39,829.16 119.88,830.77 120.04,832.3 119.88,833.65 119.4,834.71 118.63,835.42" style="stroke-width:1"/>
<polygon points="67.98,843.06 68.03,841.87 68.16,840.75 68.39,839.7 68.71,838.73 69.11,837.84 69.59,837.05 70.15,836.35 70.79,835.76 71.5,835.28 72.27,834.91 73.1,834.65 73.99,834.51 74.92,834.49 75.89,834.58 76.89,834.8 77.91,835.13 82.06,836.74 82.84,837.07 83.63,837.48 84.41,837.97 85.19,838.54 85.96,839.18 86.71,839.89 87.44,840.66 88.14,841.48 88.8,842.35 89.42,843.26 90,844.21 90.53,845.19 91.01,846.18 91.44,847.19 91.8,848.21 92.1,849.22 92.34,850.23 92.51,851.21 92.61,852.17 92.64,853.1 92.61,853.98 92.51,854.82 91.84,859.25 91.61,860.3 91.29,861.27 90.89,862.16 90.41,862.95 89.85,863.65 89.21,864.24 88.5,864.72 87.73,865.09 86.9,865.35 86.01,865.49 85.08,865.51 84.11,865.42 83.11,865.2 82.09,864.87 81.05,864.43 80,863.88 78.96,863.22 77.92,862.46 76.89,861.61 75.89,860.67 74.92,859.64 73.99,858.55 73.11,857.39 72.28,856.17 71.51,854.9 70.8,853.6 70.16,852.27 69.59,850.93 69.11,849.57 68.71,848.22 68.39,846.89 68.17,845.57 68.03,844.29" style="stroke-width:0.9;fill:#fff"/>
<ellipse cx="80" cy="850" rx="17" ry="9.81" transform="rotate(60 80 850)" style="stroke-width:0.9;fill:#fff"/>
<path d="M75.72,848.57 l8.57,2.86 M78.57,844.76 l2.86,10.47" style="stroke-width:1.1"/>
<path d="M75.72,845.72 l2.38,2.38 M82.38,852.86 l2.38,1.9" style="stroke-width:0.8"/>
<polygon points="197.19,792.63 225.4,774.39 218.6,762.61 190.39,780.85" style="stroke:none;fill:#fff"/>
<line x1="197.19" y1="792.63" x2="225.4" y2="774.39" style="stroke-width:0.9"/>
<line x1="190.39" y1="780.85" x2="218.6" y2="762.61" style="stroke-width:0.9"/>
<polyline points="218.6,762.61 219.6,762.3 220.75,762.42 222,762.95 223.24,763.86 224.4,765.08 225.4,766.54 226.16,768.13 226.64,769.75 226.81,771.28 226.64,772.62 226.16,773.68 225.4,774.39" style="stroke-width:0.9"/>
<polyline points="191.96,779.84 192.95,779.53 194.11,779.65 195.35,780.18 196.6,781.09 197.76,782.31 198.75,783.77 199.52,785.36 200,786.97 200.16,788.51 200,789.85 199.52,790.91 198.76,791.62" style="stroke-width:1"/>
<polyline points="195.09,777.81 196.09,777.51 197.24,777.62 198.49,778.15 199.73,779.06 200.89,780.28 201.89,781.74 202.65,783.33 203.13,784.95 203.3,786.48 203.13,787.82 202.65,788.88 201.89,789.59" style="stroke-width:1"/>
<polyline points="198.22,775.79 199.22,775.48 200.38,775.59 201.62,776.12 202.87,777.03 204.03,778.26 205.02,779.71 205.79,781.3 206.27,782.92 206.43,784.45 206.27,785.79 205.79,786.86 205.02,787.56" style="stroke-width:1"/>
<polyline points="201.36,773.76 202.35,773.45 203.51,773.57 204.76,774.1 206,775 207.16,776.23 208.16,777.69 208.92,779.28 209.4,780.89 209.57,782.42 209.4,783.77 208.92,784.83 208.16,785.54" style="stroke-width:1"/>
<polyline points="204.49,771.73 205.49,771.42 206.65,771.54 207.89,772.07 209.14,772.98 210.3,774.2 211.29,775.66 212.06,777.25 212.54,778.87 212.7,780.4 212.54,781.74 212.06,782.8 211.29,783.51" style="stroke-width:1"/>
<polyline points="207.63,769.71 208.62,769.4 209.78,769.51 211.03,770.04 212.27,770.95 213.43,772.18 214.43,773.63 215.19,775.22 215.67,776.84 215.84,778.37 215.67,779.71 215.19,780.77 214.43,781.48" style="stroke-width:1"/>
<polyline points="210.76,767.68 211.76,767.37 212.92,767.49 214.16,768.02 215.41,768.92 216.57,770.15 217.56,771.61 218.33,773.2 218.81,774.81 218.97,776.34 218.81,777.69 218.33,778.75 217.56,779.46" style="stroke-width:1"/>
<polyline points="213.9,765.65 214.89,765.34 216.05,765.46 217.3,765.99 218.54,766.9 219.7,768.12 220.7,769.58 221.46,771.17 221.94,772.79 222.1,774.32 221.94,775.66 221.46,776.72 220.7,777.43" style="stroke-width:1"/>
<polyline points="217.03,763.62 218.03,763.32 219.19,763.43 220.43,763.96 221.68,764.87 222.83,766.09 223.83,767.55 224.59,769.14 225.08,770.76 225.24,772.29 225.08,773.63 224.6,774.69 223.83,775.4" style="stroke-width:1"/>
<polygon points="176.73,783.06 176.78,781.87 176.91,780.75 177.14,779.7 177.46,778.73 177.86,777.84 178.34,777.05 178.9,776.35 179.54,775.76 180.25,775.28 181.02,774.91 181.85,774.65 182.74,774.51 183.67,774.49 184.64,774.58 185.64,774.8 186.66,775.13 190.71,776.56 191.49,776.9 192.27,777.31 193.06,777.8 193.84,778.37 194.61,779.01 195.36,779.72 196.08,780.49 196.78,781.31 197.44,782.18 198.07,783.09 198.65,784.04 199.18,785.02 199.66,786.01 200.08,787.02 200.44,788.04 200.75,789.05 200.98,790.05 201.15,791.04 201.26,792 201.29,792.93 201.26,793.81 200.59,799.25 200.36,800.3 200.04,801.27 199.64,802.16 199.16,802.95 198.6,803.65 197.96,804.24 197.25,804.72 196.48,805.09 195.65,805.35 194.76,805.49 193.83,805.51 192.86,805.42 191.86,805.2 190.84,804.87 189.8,804.43 188.75,803.88 187.71,803.22 186.67,802.46 185.64,801.61 184.64,800.67 183.67,799.64 182.74,798.55 181.86,797.39 181.03,796.17 180.26,794.9 179.55,793.6 178.91,792.27 178.34,790.93 177.86,789.57 177.46,788.22 177.14,786.89 176.92,785.57 176.78,784.29" style="stroke-width:0.9;fill:#fff"/>
<ellipse cx="188.75" cy="790" rx="17" ry="9.81" transform="rotate(60 188.75 790)" style="stroke-width:0.9;fill:#fff"/>
<path d="M184.47,788.57 l8.57,2.86 M187.32,784.76 l2.86,10.47" style="stroke-width:1.1"/>
<path d="M184.47,785.72 l2.38,2.38 M191.13,792.86 l2.38,1.9" style="stroke-width:0.8"/>
<polygon points="273.59,956.63 303.4,939.39 296.6,927.61 266.79,944.86" style="stroke:none;fill:#fff"/>
<line x1="273.59" y1="956.63" x2="303.4" y2="939.39" style="stroke-width:0.9"/>
<line x1="266.79" y1="944.86" x2="296.6" y2="927.61" style="stroke-width:0.9"/>
<polyline points="296.6,927.61 297.6,927.3 298.75,927.42 300,927.95 301.24,928.86 302.4,930.08 303.4,931.54 304.16,933.13 304.64,934.75 304.81,936.28 304.64,937.62 304.16,938.68 303.4,939.39" style="stroke-width:0.9"/>
<polyline points="268.45,943.9 269.44,943.59 270.6,943.71 271.85,944.24 273.09,945.14 274.25,946.37 275.25,947.83 276.01,949.42 276.49,951.03 276.66,952.56 276.49,953.91 276.01,954.97 275.25,955.68" style="stroke-width:1"/>
<polyline points="271.76,941.98 272.76,941.67 273.92,941.79 275.16,942.32 276.4,943.23 277.56,944.45 278.56,945.91 279.32,947.5 279.8,949.12 279.97,950.65 279.8,951.99 279.32,953.05 278.56,953.76" style="stroke-width:1"/>
<polyline points="275.07,940.07 276.07,939.76 277.23,939.87 278.47,940.4 279.72,941.31 280.88,942.54 281.87,943.99 282.64,945.58 283.12,947.2 283.28,948.73 283.12,950.07 282.64,951.14 281.87,951.84" style="stroke-width:1"/>
<polyline points="278.38,938.15 279.38,937.84 280.54,937.96 281.78,938.49 283.03,939.4 284.19,940.62 285.18,942.08 285.95,943.67 286.43,945.28 286.59,946.82 286.43,948.16 285.95,949.22 285.18,949.93" style="stroke-width:1"/>
<polyline points="281.7,936.23 282.69,935.93 283.85,936.04 285.1,936.57 286.34,937.48 287.5,938.7 288.49,940.16 289.26,941.75 289.74,943.37 289.9,944.9 289.74,946.24 289.26,947.3 288.5,948.01" style="stroke-width:1"/>
<polyline points="285.01,934.32 286,934.01 287.16,934.13 288.41,934.66 289.65,935.56 290.81,936.79 291.81,938.24 292.57,939.84 293.05,941.45 293.22,942.98 293.05,944.33 292.57,945.39 291.81,946.1" style="stroke-width:1"/>
<polyline points="288.32,932.4 289.32,932.09 290.47,932.21 291.72,932.74 292.96,933.65 294.12,934.87 295.12,936.33 295.88,937.92 296.36,939.54 296.53,941.07 296.36,942.41 295.88,943.47 295.12,944.18" style="stroke-width:1"/>
<polyline points="291.63,930.49 292.63,930.18 293.79,930.29 295.03,930.82 296.27,931.73 297.43,932.96 298.43,934.41 299.19,936 299.67,937.62 299.84,939.15 299.68,940.49 299.2,941.55 298.43,942.26" style="stroke-width:1"/>
<polyline points="294.94,928.57 295.94,928.26 297.1,928.38 298.34,928.91 299.59,929.81 300.75,931.04 301.74,932.5 302.51,934.09 302.99,935.7 303.15,937.23 302.99,938.58 302.51,939.64 301.74,940.35" style="stroke-width:1"/>
<polygon points="252.98,946.81 253.03,945.62 253.16,944.5 253.39,943.45 253.71,942.48 254.11,941.59 254.59,940.8 255.15,940.1 255.79,939.51 256.5,939.03 257.27,938.66 258.1,938.4 258.99,938.26 259.92,938.24 260.89,938.33 261.89,938.55 262.91,938.88 267.07,940.49 267.85,940.82 268.63,941.24 269.42,941.73 270.2,942.3 270.97,942.94 271.72,943.65 272.44,944.41 273.14,945.24 273.8,946.11 274.43,947.02 275.01,947.97 275.54,948.94 276.02,949.94 276.44,950.95 276.8,951.97 277.1,952.98 277.34,953.98 277.51,954.97 277.61,955.93 277.65,956.85 277.61,957.74 277.51,958.58 276.84,963 276.61,964.05 276.29,965.02 275.89,965.91 275.41,966.7 274.85,967.4 274.21,967.99 273.5,968.47 272.73,968.84 271.9,969.1 271.01,969.24 270.08,969.26 269.11,969.17 268.11,968.95 267.09,968.62 266.05,968.18 265,967.63 263.96,966.97 262.92,966.21 261.89,965.36 260.89,964.42 259.92,963.39 258.99,962.3 258.11,961.14 257.28,959.92 256.51,958.65 255.8,957.35 255.16,956.02 254.59,954.68 254.11,953.32 253.71,951.97 253.39,950.64 253.17,949.32 253.03,948.04" style="stroke-width:0.9;fill:#fff"/>
<ellipse cx="265" cy="953.75" rx="17" ry="9.81" transform="rotate(60 265 953.75)" style="stroke-width:0.9;fill:#fff"/>
<path d="M260.72,952.32 l8.57,2.86 M263.57,948.51 l2.86,10.47" style="stroke-width:1.1"/>
<path d="M260.72,949.47 l2.38,2.38 M267.38,956.61 l2.38,1.9" style="stroke-width:0.8"/>
<polygon points="178.66,1011.76 210.4,994.39 203.6,982.61 171.86,999.98" style="stroke:none;fill:#fff"/>
<line x1="178.66" y1="1011.76" x2="210.4" y2="994.39" style="stroke-width:0.9"/>
<line x1="171.86" y1="999.98" x2="203.6" y2="982.61" style="stroke-width:0.9"/>
<polyline points="203.6,982.61 204.6,982.3 205.75,982.42 207,982.95 208.24,983.86 209.4,985.08 210.4,986.54 211.16,988.13 211.64,989.75 211.81,991.28 211.64,992.62 211.16,993.68 210.4,994.39" style="stroke-width:0.9"/>
<polyline points="173.63,999.02 174.62,998.71 175.78,998.82 177.02,999.35 178.27,1000.26 179.43,1001.49 180.42,1002.94 181.19,1004.53 181.67,1006.15 181.83,1007.68 181.67,1009.02 181.19,1010.09 180.43,1010.79" style="stroke-width:1"/>
<polyline points="177.15,997.09 178.15,996.78 179.31,996.89 180.55,997.42 181.8,998.33 182.95,999.56 183.95,1001.01 184.71,1002.6 185.2,1004.22 185.36,1005.75 185.2,1007.09 184.72,1008.16 183.95,1008.86" style="stroke-width:1"/>
<polyline points="180.68,995.16 181.67,994.85 182.83,994.96 184.08,995.49 185.32,996.4 186.48,997.63 187.48,999.08 188.24,1000.67 188.72,1002.29 188.89,1003.82 188.72,1005.16 188.24,1006.23 187.48,1006.93" style="stroke-width:1"/>
<polyline points="184.21,993.23 185.2,992.92 186.36,993.03 187.6,993.56 188.85,994.47 190.01,995.7 191,997.15 191.77,998.74 192.25,1000.36 192.41,1001.89 192.25,1003.23 191.77,1004.3 191.01,1005" style="stroke-width:1"/>
<polyline points="187.73,991.3 188.73,990.99 189.89,991.1 191.13,991.63 192.37,992.54 193.53,993.77 194.53,995.22 195.29,996.81 195.77,998.43 195.94,999.96 195.78,1001.3 195.3,1002.37 194.53,1003.07" style="stroke-width:1"/>
<polyline points="191.26,989.37 192.25,989.06 193.41,989.17 194.66,989.7 195.9,990.61 197.06,991.84 198.06,993.29 198.82,994.88 199.3,996.5 199.46,998.03 199.3,999.37 198.82,1000.44 198.06,1001.14" style="stroke-width:1"/>
<polyline points="194.78,987.44 195.78,987.13 196.94,987.24 198.18,987.77 199.43,988.68 200.59,989.91 201.58,991.36 202.35,992.95 202.83,994.57 202.99,996.1 202.83,997.44 202.35,998.51 201.58,999.21" style="stroke-width:1"/>
<polyline points="198.31,985.51 199.31,985.2 200.47,985.31 201.71,985.84 202.95,986.75 204.11,987.98 205.11,989.43 205.87,991.02 206.35,992.64 206.52,994.17 206.35,995.51 205.87,996.58 205.11,997.28" style="stroke-width:1"/>
<polyline points="201.84,983.58 202.83,983.27 203.99,983.38 205.24,983.91 206.48,984.82 207.64,986.05 208.63,987.5 209.4,989.09 209.88,990.71 210.04,992.24 209.88,993.58 209.4,994.65 208.64,995.35" style="stroke-width:1"/>
<polygon points="157.98,1001.81 158.03,1000.62 158.16,999.5 158.39,998.45 158.71,997.48 159.11,996.59 159.59,995.8 160.15,995.1 160.79,994.51 161.5,994.03 162.27,993.66 163.1,993.4 163.99,993.26 164.92,993.24 165.89,993.33 166.89,993.55 167.91,993.88 172.12,995.58 172.9,995.91 173.68,996.32 174.47,996.82 175.25,997.39 176.01,998.03 176.76,998.73 177.49,999.5 178.19,1000.32 178.85,1001.19 179.48,1002.11 180.06,1003.06 180.59,1004.03 181.07,1005.03 181.49,1006.04 181.85,1007.05 182.15,1008.07 182.39,1009.07 182.56,1010.05 182.66,1011.01 182.7,1011.94 182.66,1012.83 182.56,1013.67 181.84,1018 181.61,1019.05 181.29,1020.02 180.89,1020.91 180.41,1021.7 179.85,1022.4 179.21,1022.99 178.5,1023.47 177.73,1023.84 176.9,1024.1 176.01,1024.24 175.08,1024.26 174.11,1024.17 173.11,1023.95 172.09,1023.62 171.05,1023.18 170,1022.63 168.96,1021.97 167.92,1021.21 166.89,1020.36 165.89,1019.42 164.92,1018.39 163.99,1017.3 163.11,1016.14 162.28,1014.92 161.51,1013.65 160.8,1012.35 160.16,1011.02 159.59,1009.68 159.11,1008.32 158.71,1006.97 158.39,1005.64 158.17,1004.32 158.03,1003.04" style="stroke-width:0.9;fill:#fff"/>
<ellipse cx="170" cy="1008.75" rx="17" ry="9.81" transform="rotate(60 170 1008.75)" style="stroke-width:0.9;fill:#fff"/>
<path d="M165.72,1007.32 l8.57,2.86 M168.57,1003.51 l2.86,10.47" style="stroke-width:1.1"/>
<path d="M165.72,1004.47 l2.38,2.38 M172.38,1011.61 l2.38,1.9" style="stroke-width:0.8"/>
<path d="M358,718 L365.9,693.7 L398.9,675.6 C415,671 430,688 436.1,712.8 L425,735 L380,745 Z" style="fill:#fff"/>
<path d="M398.9,675.6 C415,671 430,688 436.1,712.8" style="stroke-width:1.4"/>
<ellipse cx="380" cy="721" rx="30" ry="17.31" transform="rotate(60 380 721)" style="fill:#fff"/>
<ellipse cx="380" cy="721" rx="27.5" ry="15.87" transform="rotate(60 380 721)" style="stroke-width:0.8"/>
<ellipse cx="381" cy="722" rx="24" ry="13.85" transform="rotate(60 381 722)" style="stroke-width:0.8"/>
<ellipse cx="383" cy="723" rx="20" ry="11.54" transform="rotate(60 383 723)" style="stroke-width:0.8"/>
<path d="M443.5,763.8 L472.2,747.9 C492,744 510,765 512.6,782 L511.5,801 C510.5,804 509,805 507.3,805.3 L480.7,820.2 L455,815 Z" style="fill:#fff"/>
<path d="M472.2,747.9 C492,744 510,765 512.6,782 L511.5,801" style="stroke-width:1.4"/>
<ellipse cx="463" cy="794" rx="29" ry="16.73" transform="rotate(60 463 794)" style="fill:#fff"/>
<ellipse cx="462" cy="795" rx="26.5" ry="15.29" transform="rotate(60 462 795)" style="stroke-width:0.8"/>
<ellipse cx="461" cy="796" rx="23.5" ry="13.56" transform="rotate(60 461 796)" style="stroke-width:0.8"/>
<ellipse cx="459" cy="797" rx="19" ry="10.96" transform="rotate(60 459 797)" style="stroke-width:0.8"/>
<polygon points="357.52,721.56 357.57,720.48 357.68,719.44 357.87,718.46 358.12,717.53 358.43,716.66 358.81,715.86 359.24,715.12 359.74,714.45 360.29,713.86 360.89,713.35 361.55,712.91 362.25,712.56 363,712.29 363.79,712.11 364.61,712.02 365.47,712.01 366.36,712.08 367.27,712.25 368.2,712.5 369.14,712.83 370.09,713.25 371.06,713.74 372.02,714.32 372.98,714.97 373.93,715.69 374.86,716.48 375.78,717.34 451.68,788.54 452.58,789.46 453.45,790.43 454.3,791.46 455.1,792.53 455.87,793.64 456.6,794.79 457.28,795.97 457.91,797.17 458.49,798.39 459.01,799.63 459.48,800.87 459.89,802.11 460.23,803.35 460.51,804.57 460.73,805.78 460.88,806.96 460.97,808.12 460.98,809.24 460.93,810.32 460.82,811.36 460.63,812.34 460.38,813.27 460.07,814.14 459.69,814.94 459.26,815.68 458.76,816.35 458.21,816.94 457.61,817.45 456.95,817.89 456.25,818.24 455.5,818.51 454.71,818.69 453.89,818.78 453.03,818.79 452.14,818.72 451.23,818.55 450.3,818.3 449.36,817.97 448.41,817.55 447.44,817.06 446.48,816.48 445.52,815.83 444.57,815.11 443.64,814.32 442.72,813.46 366.82,742.26 365.92,741.34 365.05,740.37 364.2,739.34 363.4,738.27 362.63,737.16 361.9,736.01 361.22,734.83 360.59,733.63 360.01,732.41 359.49,731.17 359.02,729.93 358.61,728.69 358.27,727.45 357.99,726.23 357.77,725.02 357.62,723.84 357.53,722.68" style="stroke-width:1;fill:#fff"/>
<path d="M357.4,716 C360,711 367,709 374.4,713" style="stroke-width:0.9"/>
<ellipse cx="371.3" cy="729.8" rx="12" ry="6.92" transform="rotate(60 371.3 729.8)"/>
<ellipse cx="371.3" cy="729.8" rx="10" ry="5.77" transform="rotate(60 371.3 729.8)" style="stroke-width:0.7"/>
<ellipse cx="447.2" cy="801" rx="12.5" ry="7.21" transform="rotate(60 447.2 801)"/>
<ellipse cx="447.2" cy="801" rx="10.3" ry="5.94" transform="rotate(60 447.2 801)" style="stroke-width:0.7"/>
<ellipse cx="409" cy="766" rx="16" ry="9.23" transform="rotate(60 409 766)"/>
<line x1="422" y1="685" x2="452" y2="707.5" style="stroke-width:0.9"/>
<polygon points="400,737.3 452,707.5 478.6,734 428.6,761.7" style="stroke-width:1;fill:#fff"/>
<line x1="428.6" y1="761.7" x2="443.5" y2="763.8" style="stroke-width:0.9"/>
<line x1="478.6" y1="734" x2="473" y2="750" style="stroke-width:0.8"/>
<line x1="473" y1="750" x2="488" y2="747" style="stroke-width:0.7"/>
<line x1="428.6" y1="761.7" x2="429" y2="764" style="stroke-width:1.5"/>
<ellipse cx="440.9" cy="733" rx="19" ry="16" transform="rotate(30 440.9 733)" style="stroke-width:1;fill:#fff"/>
<ellipse cx="441.5" cy="731" rx="15.5" ry="13" transform="rotate(30 441.5 731)" style="stroke-width:1.1"/>
<ellipse cx="441.5" cy="731" rx="12.5" ry="10.5" transform="rotate(30 441.5 731)" style="stroke-width:1.2"/>
<ellipse cx="441.5" cy="731" rx="10" ry="8.5" transform="rotate(30 441.5 731)" style="stroke-width:0.7"/>
<polygon points="440,724.5 446,727 443.5,734 437.5,731.5" style="stroke-width:0.8"/>
<polygon points="789.2,405.47 837.25,378.36 828.75,363.64 780.7,390.74" style="stroke:none;fill:#fff"/>
<line x1="789.2" y1="405.47" x2="837.25" y2="378.36" style="stroke-width:0.9"/>
<line x1="780.7" y1="390.74" x2="828.75" y2="363.64" style="stroke-width:0.9"/>
<polyline points="828.75,363.64 829.99,363.25 831.44,363.4 833,364.06 834.55,365.2 836,366.73 837.25,368.55 838.2,370.54 838.8,372.56 839.01,374.47 838.8,376.15 838.2,377.48 837.25,378.36" style="stroke-width:0.9"/>
<polyline points="783.1,389.39 784.35,389 785.8,389.15 787.35,389.81 788.91,390.94 790.36,392.48 791.6,394.3 792.56,396.29 793.16,398.31 793.36,400.22 793.16,401.9 792.56,403.22 791.6,404.11" style="stroke-width:1"/>
<polyline points="787.91,386.68 789.15,386.29 790.6,386.44 792.16,387.1 793.71,388.23 795.16,389.76 796.41,391.59 797.36,393.58 797.96,395.6 798.17,397.51 797.96,399.19 797.36,400.51 796.41,401.4" style="stroke-width:1"/>
<polyline points="792.71,383.97 793.96,383.58 795.41,383.73 796.96,384.39 798.52,385.52 799.97,387.05 801.21,388.88 802.17,390.86 802.77,392.89 802.97,394.8 802.77,396.48 802.17,397.8 801.21,398.69" style="stroke-width:1"/>
<polyline points="797.52,381.26 798.76,380.87 800.21,381.02 801.77,381.68 803.32,382.81 804.77,384.34 806.02,386.17 806.97,388.15 807.57,390.17 807.78,392.09 807.57,393.77 806.97,395.09 806.02,395.98" style="stroke-width:1"/>
<polyline points="802.32,378.55 803.57,378.16 805.02,378.31 806.57,378.97 808.13,380.1 809.58,381.63 810.82,383.46 811.78,385.44 812.38,387.46 812.58,389.38 812.38,391.06 811.78,392.38 810.82,393.27" style="stroke-width:1"/>
<polyline points="807.13,375.84 808.37,375.45 809.82,375.6 811.38,376.26 812.93,377.39 814.38,378.92 815.63,380.74 816.58,382.73 817.18,384.75 817.39,386.67 817.18,388.35 816.58,389.67 815.63,390.56" style="stroke-width:1"/>
<polyline points="811.93,373.13 813.18,372.74 814.63,372.89 816.18,373.55 817.74,374.68 819.19,376.21 820.43,378.03 821.39,380.02 821.99,382.04 822.19,383.96 821.99,385.64 821.39,386.96 820.43,387.85" style="stroke-width:1"/>
<polyline points="816.74,370.41 817.98,370.03 819.43,370.17 820.99,370.84 822.54,371.97 823.99,373.5 825.24,375.32 826.19,377.31 826.79,379.33 827,381.25 826.79,382.92 826.19,384.25 825.24,385.14" style="stroke-width:1"/>
<polyline points="821.54,367.7 822.79,367.32 824.24,367.46 825.79,368.13 827.35,369.26 828.8,370.79 830.04,372.61 831,374.6 831.6,376.62 831.8,378.54 831.6,380.21 831,381.54 830.04,382.43" style="stroke-width:1"/>
<polyline points="826.35,364.99 827.59,364.61 829.04,364.75 830.6,365.42 832.15,366.55 833.6,368.08 834.85,369.9 835.8,371.89 836.4,373.91 836.61,375.83 836.4,377.5 835.8,378.83 834.85,379.72" style="stroke-width:1"/>
<polygon points="786,423.92 792.69,403.5 784.19,388.78 763,384.08" style="stroke:none;fill:#fff"/>
<path d="M763,384.08 Q779.85,389.27 784.19,388.78" style="stroke-width:0.9"/>
<path d="M786,423.92 Q790.05,406.94 792.69,403.5" style="stroke-width:0.9"/>
<ellipse cx="774.5" cy="404" rx="23" ry="13.27" transform="rotate(60 774.5 404)" style="stroke-width:0.9;fill:#fff"/>
<path d="M768.7,402.07 l11.59,3.86 M772.57,396.92 l3.86,14.17" style="stroke-width:1.1"/>
<path d="M768.7,398.2 l3.22,3.22 M777.72,407.86 l3.22,2.58" style="stroke-width:0.8"/>
<polygon points="803.38,599.44 861.5,567.29 852.5,551.71 794.38,583.85" style="stroke:none;fill:#fff"/>
<line x1="803.38" y1="599.44" x2="861.5" y2="567.29" style="stroke-width:0.9"/>
<line x1="794.38" y1="583.85" x2="852.5" y2="551.71" style="stroke-width:0.9"/>
<polyline points="852.5,551.71 853.82,551.3 855.35,551.45 857,552.15 858.64,553.35 860.18,554.97 861.5,556.9 862.51,559.01 863.14,561.15 863.36,563.18 863.15,564.95 862.51,566.36 861.5,567.29" style="stroke-width:0.9"/>
<polyline points="797.02,582.39 798.34,581.98 799.87,582.14 801.52,582.84 803.16,584.04 804.7,585.66 806.02,587.59 807.03,589.69 807.66,591.83 807.88,593.86 807.66,595.64 807.03,597.04 806.02,597.98" style="stroke-width:1"/>
<polyline points="802.3,579.47 803.62,579.06 805.15,579.21 806.8,579.91 808.45,581.12 809.98,582.74 811.3,584.66 812.31,586.77 812.95,588.91 813.16,590.94 812.95,592.71 812.31,594.12 811.3,595.06" style="stroke-width:1"/>
<polyline points="807.59,576.54 808.9,576.14 810.44,576.29 812.08,576.99 813.73,578.19 815.27,579.81 816.58,581.74 817.59,583.85 818.23,585.99 818.45,588.01 818.23,589.79 817.6,591.2 816.59,592.13" style="stroke-width:1"/>
<polyline points="812.87,573.62 814.19,573.22 815.72,573.37 817.37,574.07 819.01,575.27 820.55,576.89 821.87,578.82 822.88,580.93 823.51,583.07 823.73,585.09 823.52,586.87 822.88,588.27 821.87,589.21" style="stroke-width:1"/>
<polyline points="818.15,570.7 819.47,570.29 821.01,570.45 822.65,571.15 824.3,572.35 825.83,573.97 827.15,575.9 828.16,578 828.8,580.14 829.02,582.17 828.8,583.95 828.16,585.35 827.15,586.29" style="stroke-width:1"/>
<polyline points="823.44,567.78 824.76,567.37 826.29,567.52 827.94,568.22 829.58,569.43 831.12,571.05 832.44,572.98 833.45,575.08 834.08,577.22 834.3,579.25 834.08,581.02 833.45,582.43 832.44,583.37" style="stroke-width:1"/>
<polyline points="828.72,564.86 830.04,564.45 831.57,564.6 833.22,565.3 834.87,566.5 836.4,568.12 837.72,570.05 838.73,572.16 839.37,574.3 839.58,576.33 839.37,578.1 838.73,579.51 837.72,580.44" style="stroke-width:1"/>
<polyline points="834.01,561.93 835.32,561.53 836.86,561.68 838.5,562.38 840.15,563.58 841.69,565.2 843,567.13 844.01,569.24 844.65,571.38 844.87,573.4 844.65,575.18 844.02,576.58 843.01,577.52" style="stroke-width:1"/>
<polyline points="839.29,559.01 840.61,558.6 842.14,558.76 843.79,559.46 845.43,560.66 846.97,562.28 848.29,564.21 849.3,566.31 849.93,568.45 850.15,570.48 849.94,572.26 849.3,573.66 848.29,574.6" style="stroke-width:1"/>
<polyline points="844.57,556.09 845.89,555.68 847.43,555.84 849.07,556.54 850.72,557.74 852.25,559.36 853.57,561.29 854.58,563.39 855.22,565.53 855.44,567.56 855.22,569.34 854.58,570.74 853.57,571.68" style="stroke-width:1"/>
<polyline points="849.86,553.17 851.18,552.76 852.71,552.91 854.36,553.61 856,554.82 857.54,556.44 858.86,558.36 859.87,560.47 860.5,562.61 860.72,564.64 860.5,566.41 859.87,567.82 858.86,568.76" style="stroke-width:1"/>
<polygon points="774.88,586.69 774.94,585.1 775.13,583.6 775.43,582.19 775.85,580.88 776.39,579.7 777.04,578.63 777.79,577.7 778.65,576.9 779.6,576.25 780.64,575.76 781.75,575.41 782.94,575.22 784.18,575.2 785.48,575.32 786.82,575.61 793.38,577.66 794.41,577.99 795.46,578.44 796.51,578.99 797.56,579.65 798.61,580.42 799.64,581.27 800.64,582.22 801.62,583.25 802.55,584.35 803.44,585.52 804.28,586.75 805.06,588.02 805.77,589.33 806.41,590.66 806.98,592.02 807.47,593.38 807.87,594.74 808.19,596.08 808.42,597.4 808.55,598.69 808.6,599.93 808.56,601.12 808.42,602.25 808.19,603.31 806.57,609.81 806.15,611.12 805.61,612.3 804.96,613.37 804.21,614.3 803.35,615.1 802.4,615.75 801.36,616.24 800.25,616.59 799.06,616.78 797.82,616.8 796.52,616.68 795.18,616.39 793.8,615.95 792.41,615.35 791,614.61 789.6,613.73 788.21,612.71 786.83,611.57 785.49,610.31 784.19,608.93 782.95,607.46 781.76,605.91 780.64,604.27 779.61,602.58 778.66,600.83 777.8,599.05 777.04,597.24 776.39,595.43 775.86,593.62 775.43,591.82 775.13,590.06 774.94,588.35" style="stroke-width:0.9;fill:#fff"/>
<ellipse cx="791" cy="596" rx="22.8" ry="13.16" transform="rotate(60 791 596)" style="stroke-width:0.9;fill:#fff"/>
<path d="M785.25,594.08 l11.49,3.83 M789.08,588.98 l3.83,14.04" style="stroke-width:1.1"/>
<path d="M785.25,590.25 l3.19,3.19 M794.19,599.83 l3.19,2.55" style="stroke-width:0.8"/>
<polygon points="969.51,695.02 1020.5,665.79 1011.5,650.21 960.51,679.43" style="stroke:none;fill:#fff"/>
<line x1="969.51" y1="695.02" x2="1020.5" y2="665.79" style="stroke-width:0.9"/>
<line x1="960.51" y1="679.43" x2="1011.5" y2="650.21" style="stroke-width:0.9"/>
<polyline points="1011.5,650.21 1012.82,649.8 1014.35,649.95 1016,650.65 1017.64,651.85 1019.18,653.47 1020.5,655.4 1021.51,657.51 1022.14,659.65 1022.36,661.68 1022.15,663.45 1021.51,664.86 1020.5,665.79" style="stroke-width:0.9"/>
<polyline points="962.83,678.1 964.14,677.7 965.68,677.85 967.32,678.55 968.97,679.75 970.51,681.37 971.82,683.3 972.83,685.41 973.47,687.54 973.69,689.57 973.47,691.35 972.84,692.75 971.83,693.69" style="stroke-width:1"/>
<polyline points="967.46,675.45 968.78,675.04 970.31,675.19 971.96,675.89 973.61,677.09 975.14,678.71 976.46,680.64 977.47,682.75 978.11,684.89 978.32,686.91 978.11,688.69 977.47,690.1 976.46,691.03" style="stroke-width:1"/>
<polyline points="972.1,672.79 973.41,672.38 974.95,672.53 976.6,673.24 978.24,674.44 979.78,676.06 981.09,677.99 982.11,680.09 982.74,682.23 982.96,684.26 982.74,686.03 982.11,687.44 981.1,688.38" style="stroke-width:1"/>
<polyline points="976.73,670.13 978.05,669.73 979.58,669.88 981.23,670.58 982.88,671.78 984.41,673.4 985.73,675.33 986.74,677.44 987.38,679.57 987.6,681.6 987.38,683.38 986.74,684.78 985.73,685.72" style="stroke-width:1"/>
<polyline points="981.37,667.47 982.69,667.07 984.22,667.22 985.87,667.92 987.51,669.12 989.05,670.74 990.37,672.67 991.38,674.78 992.01,676.92 992.23,678.94 992.01,680.72 991.38,682.13 990.37,683.06" style="stroke-width:1"/>
<polyline points="986,664.82 987.32,664.41 988.86,664.56 990.5,665.27 992.15,666.47 993.68,668.09 995,670.02 996.01,672.12 996.65,674.26 996.87,676.29 996.65,678.06 996.01,679.47 995,680.41" style="stroke-width:1"/>
<polyline points="990.64,662.16 991.96,661.75 993.49,661.91 995.14,662.61 996.78,663.81 998.32,665.43 999.64,667.36 1000.65,669.46 1001.28,671.6 1001.5,673.63 1001.29,675.41 1000.65,676.81 999.64,677.75" style="stroke-width:1"/>
<polyline points="995.28,659.5 996.59,659.1 998.13,659.25 999.77,659.95 1001.42,661.15 1002.95,662.77 1004.27,664.7 1005.28,666.81 1005.92,668.95 1006.14,670.97 1005.92,672.75 1005.29,674.16 1004.28,675.09" style="stroke-width:1"/>
<polyline points="999.91,656.85 1001.23,656.44 1002.76,656.59 1004.41,657.29 1006.06,658.5 1007.59,660.12 1008.91,662.05 1009.92,664.15 1010.56,666.29 1010.77,668.32 1010.56,670.09 1009.92,671.5 1008.91,672.44" style="stroke-width:1"/>
<polyline points="1004.55,654.19 1005.86,653.78 1007.4,653.94 1009.04,654.64 1010.69,655.84 1012.23,657.46 1013.54,659.39 1014.56,661.49 1015.19,663.63 1015.41,665.66 1015.19,667.44 1014.56,668.84 1013.55,669.78" style="stroke-width:1"/>
<polyline points="1009.18,651.53 1010.5,651.13 1012.03,651.28 1013.68,651.98 1015.33,653.18 1016.86,654.8 1018.18,656.73 1019.19,658.84 1019.83,660.98 1020.04,663 1019.83,664.78 1019.19,666.19 1018.18,667.12" style="stroke-width:1"/>
<polygon points="941.08,682.39 941.14,680.8 941.33,679.3 941.63,677.89 942.05,676.58 942.59,675.4 943.24,674.33 943.99,673.4 944.85,672.6 945.8,671.95 946.84,671.46 947.95,671.11 949.14,670.92 950.38,670.9 951.68,671.02 953.02,671.31 959.53,673.28 960.56,673.61 961.61,674.05 962.66,674.61 963.72,675.27 964.76,676.03 965.79,676.89 966.8,677.84 967.77,678.87 968.71,679.97 969.6,681.14 970.43,682.36 971.21,683.63 971.92,684.94 972.57,686.28 973.13,687.63 973.62,689 974.02,690.35 974.34,691.7 974.57,693.02 974.71,694.31 974.75,695.55 974.71,696.74 974.57,697.87 974.34,698.93 972.77,705.51 972.35,706.82 971.81,708 971.16,709.07 970.41,710 969.55,710.8 968.6,711.45 967.56,711.94 966.45,712.29 965.26,712.48 964.02,712.5 962.72,712.38 961.38,712.09 960,711.65 958.61,711.05 957.2,710.31 955.8,709.43 954.41,708.41 953.03,707.27 951.69,706.01 950.39,704.63 949.15,703.16 947.96,701.61 946.84,699.97 945.81,698.28 944.86,696.53 944,694.75 943.24,692.94 942.59,691.13 942.06,689.32 941.63,687.52 941.33,685.76 941.14,684.05" style="stroke-width:0.9;fill:#fff"/>
<ellipse cx="957.2" cy="691.7" rx="22.8" ry="13.16" transform="rotate(60 957.2 691.7)" style="stroke-width:0.9;fill:#fff"/>
<path d="M951.45,689.78 l11.49,3.83 M955.28,684.68 l3.83,14.04" style="stroke-width:1.1"/>
<path d="M951.45,685.95 l3.19,3.19 M960.39,695.53 l3.19,2.55" style="stroke-width:0.8"/>
<polygon points="756.55,824.77 779.94,838.27 770.44,854.73 747.05,841.23" style="stroke:none;fill:#fff"/>
<line x1="756.55" y1="824.77" x2="779.94" y2="838.27" style="stroke-width:0.9"/>
<line x1="747.05" y1="841.23" x2="770.44" y2="854.73" style="stroke-width:0.9"/>
<ellipse cx="775.19" cy="846.5" rx="9.5" ry="5.48" transform="rotate(-60 775.19 846.5)" style="stroke-width:0.9;fill:#fff"/>
<polygon points="778.19,841.3 794.64,850.8 788.64,861.2 772.19,851.7" style="stroke:none;fill:#fff"/>
<line x1="778.19" y1="841.3" x2="794.64" y2="850.8" style="stroke-width:0.9"/>
<line x1="772.19" y1="851.7" x2="788.64" y2="861.2" style="stroke-width:0.9"/>
<ellipse cx="791.64" cy="856" rx="6" ry="3.46" transform="rotate(-60 791.64 856)" style="stroke-width:0.9;fill:#fff"/>
<line x1="779.65" y1="846.77" x2="790.91" y2="853.27" style="stroke-width:1.2"/>
<polygon points="799.89,841.71 802.49,843.21 785.99,871.79 783.39,870.29" style="stroke:none;fill:#fff"/>
<line x1="799.89" y1="841.71" x2="802.49" y2="843.21" style="stroke-width:1.1"/>
<line x1="783.39" y1="870.29" x2="785.99" y2="871.79" style="stroke-width:1.1"/>
<ellipse cx="794.24" cy="857.5" rx="16.5" ry="9.52" transform="rotate(-60 794.24 857.5)" style="stroke-width:1.1;fill:#fff"/>
<polygon points="801.99,844.08 804.59,845.58 789.09,872.42 786.49,870.92" style="stroke:none;fill:#fff"/>
<line x1="801.99" y1="844.08" x2="804.59" y2="845.58" style="stroke-width:1.1"/>
<line x1="786.49" y1="870.92" x2="789.09" y2="872.42" style="stroke-width:1.1"/>
<ellipse cx="796.84" cy="859" rx="15.5" ry="8.94" transform="rotate(-60 796.84 859)" style="stroke-width:1.1;fill:#fff"/>
<polygon points="802.84,848.61 813.23,854.61 801.23,875.39 790.84,869.39" style="stroke:none;fill:#fff"/>
<line x1="802.84" y1="848.61" x2="813.23" y2="854.61" style="stroke-width:0.9"/>
<line x1="790.84" y1="869.39" x2="801.23" y2="875.39" style="stroke-width:0.9"/>
<ellipse cx="807.23" cy="865" rx="12" ry="6.92" transform="rotate(-60 807.23 865)" style="stroke-width:0.9;fill:#fff"/>
<polygon points="815.23,851.14 817.83,852.64 801.83,880.36 799.23,878.86" style="stroke:none;fill:#fff"/>
<line x1="815.23" y1="851.14" x2="817.83" y2="852.64" style="stroke-width:1.1"/>
<line x1="799.23" y1="878.86" x2="801.83" y2="880.36" style="stroke-width:1.1"/>
<ellipse cx="809.83" cy="866.5" rx="16" ry="9.23" transform="rotate(-60 809.83 866.5)" style="stroke-width:1.1;fill:#fff"/>
<polygon points="817.33,853.51 819.92,855.01 804.92,880.99 802.33,879.49" style="stroke:none;fill:#fff"/>
<line x1="817.33" y1="853.51" x2="819.92" y2="855.01" style="stroke-width:1.1"/>
<line x1="802.33" y1="879.49" x2="804.92" y2="880.99" style="stroke-width:1.1"/>
<ellipse cx="812.42" cy="868" rx="15" ry="8.65" transform="rotate(-60 812.42 868)" style="stroke-width:1.1;fill:#fff"/>
<polygon points="815.92,861.94 831.51,870.94 824.51,883.06 808.92,874.06" style="stroke:none;fill:#fff"/>
<line x1="815.92" y1="861.94" x2="831.51" y2="870.94" style="stroke-width:0.9"/>
<line x1="808.92" y1="874.06" x2="824.51" y2="883.06" style="stroke-width:0.9"/>
<ellipse cx="828.01" cy="877" rx="7" ry="4.04" transform="rotate(-60 828.01 877)" style="stroke-width:0.9;fill:#fff"/>
<line x1="814.89" y1="871.73" x2="825.28" y2="877.73" style="stroke-width:1.2"/>
<polygon points="833.01,868.34 859.98,884.83 850.78,900.77 823.01,885.66" style="stroke:none;fill:#fff"/>
<line x1="833.01" y1="868.34" x2="859.98" y2="884.83" style="stroke-width:0.9"/>
<line x1="823.01" y1="885.66" x2="850.78" y2="900.77" style="stroke-width:0.9"/>
<ellipse cx="855.38" cy="892.8" rx="9.2" ry="5.31" transform="rotate(-60 855.38 892.8)" style="stroke-width:0.9;fill:#fff"/>
<ellipse cx="855.38" cy="892.8" rx="6.5" ry="3.8" transform="rotate(-60 855.38 892.8)" style="stroke-width:1"/>
<ellipse cx="718.9" cy="666.7" rx="24.5" ry="14.1" transform="rotate(-60 718.9 666.7)" style="stroke-width:0.9;fill:#fff"/>
<ellipse cx="716.4" cy="665.4" rx="24.5" ry="14.1" transform="rotate(-60 716.4 665.4)" style="stroke-width:0.9;fill:#fff"/>
<ellipse cx="716.8" cy="665.6" rx="21" ry="12.1" transform="rotate(-60 716.8 665.6)" style="stroke-width:0.9"/>
<polyline points="708.56,664.67 709.83,662.12 711.31,659.68 712.96,657.38 714.76,655.28 716.67,653.41 718.66,651.82 720.67,650.53 722.69,649.57 724.65,648.95 726.54,648.7 728.3,648.81 729.91,649.28 731.34,650.1 732.55,651.26 733.53,652.74 734.25,654.49 734.7,656.51 734.87,658.73 734.76,661.12 734.38,663.63" style="stroke-width:0.7"/>
<polygon points="697,665 707.39,671 697,677 686.61,671" style="stroke-width:0.8;fill:#fff"/>
<polygon points="686.61,671 697,677 697,689 686.61,683" style="stroke-width:0.8;fill:#fff"/>
<polygon points="697,677 707.39,671 707.39,683 697,689" style="stroke-width:0.8;fill:#fff"/>
<ellipse cx="763.5" cy="692.3" rx="24.5" ry="14.1" transform="rotate(-60 763.5 692.3)" style="stroke-width:0.9;fill:#fff"/>
<ellipse cx="761" cy="691" rx="24.5" ry="14.1" transform="rotate(-60 761 691)" style="stroke-width:0.9;fill:#fff"/>
<ellipse cx="761.4" cy="691.2" rx="21" ry="12.1" transform="rotate(-60 761.4 691.2)" style="stroke-width:0.9"/>
<polyline points="753.16,690.27 754.43,687.72 755.91,685.28 757.56,682.98 759.36,680.88 761.27,679.01 763.26,677.42 765.27,676.13 767.29,675.17 769.25,674.55 771.14,674.3 772.9,674.41 774.51,674.88 775.94,675.7 777.15,676.86 778.13,678.34 778.85,680.09 779.3,682.11 779.47,684.33 779.36,686.72 778.98,689.23" style="stroke-width:0.7"/>
<polygon points="740.5,689.5 750.89,695.5 740.5,701.5 730.11,695.5" style="stroke-width:0.8;fill:#fff"/>
<polygon points="730.11,695.5 740.5,701.5 740.5,713.5 730.11,707.5" style="stroke-width:0.8;fill:#fff"/>
<polygon points="740.5,701.5 750.89,695.5 750.89,707.5 740.5,713.5" style="stroke-width:0.8;fill:#fff"/>
<ellipse cx="712" cy="812.3" rx="24.5" ry="14.1" transform="rotate(-60 712 812.3)" style="stroke-width:0.9;fill:#fff"/>
<ellipse cx="709.5" cy="811" rx="24.5" ry="14.1" transform="rotate(-60 709.5 811)" style="stroke-width:0.9;fill:#fff"/>
<ellipse cx="709.9" cy="811.2" rx="21" ry="12.1" transform="rotate(-60 709.9 811.2)" style="stroke-width:0.9"/>
<polyline points="701.66,810.27 702.93,807.72 704.41,805.28 706.06,802.98 707.86,800.88 709.77,799.01 711.76,797.42 713.77,796.13 715.79,795.17 717.75,794.55 719.64,794.3 721.4,794.41 723.01,794.88 724.44,795.7 725.65,796.86 726.63,798.34 727.35,800.09 727.8,802.11 727.97,804.33 727.86,806.72 727.48,809.23" style="stroke-width:0.7"/>
<polygon points="689,810 699.39,816 689,822 678.61,816" style="stroke-width:0.8;fill:#fff"/>
<polygon points="678.61,816 689,822 689,834 678.61,828" style="stroke-width:0.8;fill:#fff"/>
<polygon points="689,822 699.39,816 699.39,828 689,834" style="stroke-width:0.8;fill:#fff"/>
<ellipse cx="745.8" cy="830.3" rx="24.5" ry="14.1" transform="rotate(-60 745.8 830.3)" style="stroke-width:0.9;fill:#fff"/>
<ellipse cx="743.3" cy="829" rx="24.5" ry="14.1" transform="rotate(-60 743.3 829)" style="stroke-width:0.9;fill:#fff"/>
<ellipse cx="743.7" cy="829.2" rx="21" ry="12.1" transform="rotate(-60 743.7 829.2)" style="stroke-width:0.9"/>
<polyline points="735.46,828.27 736.73,825.72 738.21,823.28 739.86,820.98 741.66,818.88 743.57,817.01 745.56,815.42 747.57,814.13 749.59,813.17 751.55,812.55 753.44,812.3 755.2,812.41 756.81,812.88 758.24,813.7 759.45,814.86 760.43,816.34 761.15,818.09 761.6,820.11 761.77,822.33 761.66,824.72 761.27,827.23" style="stroke-width:0.7"/>
<polygon points="720.5,827.5 730.89,833.5 720.5,839.5 710.11,833.5" style="stroke-width:0.8;fill:#fff"/>
<polygon points="710.11,833.5 720.5,839.5 720.5,851.5 710.11,845.5" style="stroke-width:0.8;fill:#fff"/>
<polygon points="720.5,839.5 730.89,833.5 730.89,845.5 720.5,851.5" style="stroke-width:0.8;fill:#fff"/>
<line x1="677" y1="644" x2="733.75" y2="676.25" style="stroke-width:0.8"/>
<line x1="750" y1="687.5" x2="778.75" y2="702.5" style="stroke-width:0.8"/>
<line x1="677" y1="793.75" x2="733.75" y2="823.75" style="stroke-width:0.8"/>
<line x1="731" y1="826" x2="755" y2="840" style="stroke-width:0.8"/>
<path d="M785,700 Q922.5,762 1045,866 L1035,876 Q920,780 780,710 Q776,703 785,700 Z" style="stroke:none;fill:#fff"/>
<path d="M785,700 Q922.5,762 1045,866" style="stroke-width:1"/>
<path d="M780,710 Q920,780 1035,876" style="stroke-width:1"/>
<path d="M785,700 Q776,703 780,710" style="stroke-width:1"/>
<path d="M1045,866 Q1046,871 1042,871 L1040,875 Q1038,877 1035,876" style="stroke-width:0.9"/>
<path d="M878.75,943.75 C895,985 922,1040 922.5,1082.5 L922.5,1220 L935,1220 L935,1075 C935,1030 905,975 887.5,935 Z" style="stroke:none;fill:#fff"/>
<path d="M878.75,943.75 C898,985 921,1035 922.5,1082.5 L922.5,1202" style="stroke-width:1"/>
<path d="M887.5,935 C908,975 933,1025 935,1075 L935,1202" style="stroke-width:1"/>
<path d="M878.75,943.75 L879,940 L883,940 L884,936 L887.5,935" style="stroke-width:0.9"/>
<polygon points="947.5,1137.5 1020,1170 1020,1202.5 947.5,1170" style="stroke:none;fill:#fff"/>
<line x1="945" y1="1135.5" x2="1019" y2="1170" style="stroke-width:2.4"/>
<line x1="1019" y1="1170" x2="1019" y2="1202.5" style="stroke-width:2.2"/>
<line x1="947.5" y1="1170" x2="1019" y2="1202.5" style="stroke-width:1"/>
<line x1="910" y1="1128" x2="910" y2="1160" style="stroke-width:1"/>
<line x1="947.5" y1="1128" x2="947.5" y2="1168" style="stroke-width:1"/>
<polyline points="910,1128 910.16,1126.86 910.64,1125.74 911.43,1124.65 912.51,1123.62 913.87,1122.67 915.49,1121.81 917.34,1121.06 919.38,1120.42 921.57,1119.92 923.9,1119.55 926.3,1119.32 928.75,1119.25 931.2,1119.32 933.6,1119.55 935.93,1119.92 938.12,1120.42 940.16,1121.06 942.01,1121.81 943.63,1122.67 944.99,1123.62 946.07,1124.65 946.86,1125.74 947.34,1126.86 947.5,1128" style="stroke-width:1"/>
<polyline points="911.75,1129 911.9,1128.02 912.33,1127.06 913.04,1126.13 914.03,1125.25 915.26,1124.43 916.73,1123.7 918.4,1123.05 920.25,1122.5 922.24,1122.07 924.35,1121.76 926.53,1121.56 928.75,1121.5 930.97,1121.56 933.15,1121.76 935.26,1122.07 937.25,1122.5 939.1,1123.05 940.77,1123.7 942.24,1124.43 943.47,1125.25 944.46,1126.13 945.17,1127.06 945.6,1128.02 945.75,1129" style="stroke-width:0.7"/>
<path d="M910,1130 Q918,1140 929,1139 Q940,1139 947.5,1132" style="stroke-width:1"/>
<path d="M910,1160 Q914,1171 929,1170.5 L941,1170 Q946,1170 947.5,1168" style="stroke-width:1"/>
<line x1="935.5" y1="1131" x2="935.5" y2="1170" style="stroke-width:0.8"/>
<path d="M888,1206 L888,1303.75 C895,1297 902,1291 908.75,1291.25 C920,1292 935,1311 947.5,1312 C955,1311 962,1305 968.75,1301.25 L968.75,1206 Z" style="stroke-width:1;fill:#fff"/>
<ellipse cx="928.75" cy="1205" rx="40.4" ry="21" style="stroke-width:1;fill:#fff"/>
<ellipse cx="928.75" cy="1206" rx="28" ry="15" style="stroke-width:1"/>
<line x1="922.5" y1="1196" x2="922.5" y2="1220" style="stroke-width:1"/>
<line x1="935" y1="1196" x2="935" y2="1220" style="stroke-width:1"/>
<path d="M888,1338.75 C895,1332 902,1326 907.5,1326.25 C920,1327 935,1346 947.5,1346.25 C955,1345 962,1340 968.75,1336.25 L968.75,1487.5 C968,1500 950,1510.75 928.75,1510.75 C907,1510.75 889,1500 888,1487.5 Z" style="stroke-width:1;fill:#fff"/>
<path d="M921.25,1511 L921.25,1551 Q928,1557 935.5,1551 L935.5,1511" style="stroke-width:1;fill:#fff"/>
<path d="M892.1,1751 L892.1,1775.6 Q893,1780 895.3,1781 L895.3,1788 Q905,1793 913,1794 L914,1791 L918,1793 Q930,1794 942,1793 L945.5,1791 L947,1794 Q958,1792 965.6,1788 L965.6,1781 Q968,1779 968.4,1775.6 L968.4,1751 Z" style="stroke-width:1;fill:#fff"/>
<ellipse cx="930.25" cy="1751.25" rx="38.2" ry="21.3" style="stroke-width:1;fill:#fff"/>
<path d="M892.5,1772 Q930,1797 968,1772" style="stroke:none"/>
<path d="M917.8,1710 L917.8,1716 Q916.5,1719 917.5,1722 L917.8,1751 Q930,1759 943.1,1751 L943.1,1722 Q944.5,1719 943.1,1716 L943.1,1710 Z" style="stroke-width:1;fill:#fff"/>
<path d="M917.8,1725 Q930.5,1731 943.1,1725" style="stroke-width:0.9"/>
<path d="M917.8,1734 Q930.5,1740 943.1,1734" style="stroke-width:0.9"/>
<path d="M917.8,1743 Q930.5,1749 943.1,1743" style="stroke-width:0.9"/>
<ellipse cx="930.6" cy="1709.5" rx="11.5" ry="7" style="stroke-width:1;fill:#fff"/>
<ellipse cx="930.6" cy="1709.5" rx="7.5" ry="4.6" style="stroke-width:0.9"/>
<line x1="930.6" y1="1567.5" x2="930.6" y2="1615" style="stroke-width:0.9"/>
<line x1="930.6" y1="1624" x2="930.6" y2="1655" style="stroke-width:0.9"/>
<line x1="930.6" y1="1664" x2="930.6" y2="1712" style="stroke-width:0.9"/>
<line class="d" x1="120" y1="827.18" x2="182" y2="791.28"/>
<line class="d" x1="225" y1="766.38" x2="890" y2="381.35"/>
<line class="d" x1="356" y1="796.4" x2="610" y2="648.82"/>
<line class="d" x1="657" y1="621.51" x2="1000" y2="422.23"/>
<line class="d" x1="210" y1="986.08" x2="265" y2="953.98"/>
<line class="d" x1="303" y1="931.81" x2="981" y2="536.13"/>
<line class="d" x1="835" y1="364.02" x2="897" y2="328.38"/>
<line class="d" x1="1010" y1="263.4" x2="1149" y2="183.47"/>
<line class="d" x1="860" y1="551.08" x2="899" y2="528.65"/>
<line class="d" x1="1137" y1="391.8" x2="1149" y2="384.9"/>
<line class="d" x1="1022" y1="648.95" x2="1064" y2="624.8"/>
<line class="d" x1="1148" y1="576.5" x2="1315" y2="480.48"/>
<line class="d" x1="1132" y1="341.28" x2="1175" y2="317.5"/>
</g>
<g class="c">
<line x1="1027.5" y1="1746.25" x2="950.6" y2="1771.9"/>
<line x1="1032.5" y1="1383" x2="962" y2="1402"/>
<line x1="1024.5" y1="1133.25" x2="983.75" y2="1162"/>
<line x1="992.5" y1="970" x2="897" y2="957"/>
<line x1="791.25" y1="790" x2="707.5" y2="686.25"/>
<line x1="791.25" y1="790" x2="761.25" y2="705"/>
<line x1="791.25" y1="790" x2="713.75" y2="793.25"/>
<line x1="791.25" y1="790" x2="742.5" y2="810"/>
<line x1="445.5" y1="463.75" x2="463" y2="520.5"/>
<line x1="84.5" y1="934.5" x2="86.25" y2="863.75"/>
<line x1="100" y1="937.5" x2="182.5" y2="810"/>
<line x1="113" y1="960" x2="245" y2="945"/>
<line x1="111.25" y1="977.5" x2="167.5" y2="1002.5"/>
<line x1="182.5" y1="638.75" x2="207.5" y2="714.5"/>
<line x1="363" y1="625.5" x2="391.25" y2="693.75"/>
<line x1="713.1" y1="335.6" x2="770" y2="391.9"/>
<line x1="662" y1="436.25" x2="782.5" y2="585"/>
<line x1="662" y1="436.25" x2="952.7" y2="682"/>
<line x1="890.25" y1="230" x2="905.6" y2="255.6"/>
<line x1="1134" y1="127" x2="1156" y2="157.5"/>
<line x1="1417.5" y1="98.1" x2="1426.25" y2="123.75"/>
<line x1="1518.75" y1="268" x2="1515.5" y2="244"/>
<line x1="1149.25" y1="817.5" x2="985" y2="830"/>
<line x1="898" y1="882.5" x2="846.25" y2="887"/>
<line x1="948" y1="588" x2="997.5" y2="434"/>
<circle cx="1052.3" cy="1738.8" r="24.7"/>
<polygon class="one" points="1053.58,1752.4 1050.67,1752.4 1050.67,1733.81 1049.53,1734.81 1048.02,1735.86 1046.37,1736.81 1044.83,1737.49 1044.83,1734.67 1046.99,1733.5 1048.88,1732.1 1050.41,1730.61 1051.43,1729.06 1051.72,1728.63 1053.58,1728.63"/>
<circle cx="1060.9" cy="1374.8" r="29"/>
<text x="1051.45" y="1386.4">2</text>
<circle cx="1048.4" cy="1113.9" r="29"/>
<text x="1039.05" y="1125.5">3</text>
<circle cx="1015.9" cy="990" r="29"/>
<text x="1006.55" y="1001.6">4</text>
<circle cx="820.6" cy="797.3" r="29"/>
<text x="811.18" y="808.9">5</text>
<circle cx="436.5" cy="434" r="29"/>
<text x="426.93" y="445.6">6</text>
<circle cx="83.4" cy="964" r="29"/>
<text x="73.93" y="975.6">7</text>
<circle cx="172.75" cy="609.1" r="29"/>
<text x="163.3" y="620.7">8</text>
<circle cx="352.1" cy="596.6" r="29"/>
<text x="342.65" y="608.2">9</text>
<circle cx="686.6" cy="312.5" r="33.7"/>
<polygon class="one" points="670.18,324.1 667.26,324.1 667.26,305.51 666.12,306.51 664.62,307.56 662.96,308.51 661.42,309.19 661.42,306.37 663.58,305.2 665.48,303.8 667,302.31 668.02,300.76 668.31,300.33 670.18,300.33"/>
<text x="675.11" y="324.1">0</text>
<circle cx="638.3" cy="417" r="29"/>
<polygon class="one" points="631.38,428.6 628.46,428.6 628.46,410.01 627.32,411.01 625.82,412.06 624.16,413.01 622.62,413.69 622.62,410.87 624.78,409.7 626.68,408.3 628.2,406.81 629.22,405.26 629.51,404.83 631.38,404.83"/>
<text x="636.31" y="428.6">0</text>
<circle cx="874.5" cy="203.75" r="29"/>
<polygon class="one" points="870.03,215.35 867.12,215.35 867.12,196.76 865.98,197.76 864.47,198.81 862.82,199.76 861.28,200.44 861.28,197.62 863.44,196.45 865.33,195.05 866.86,193.56 867.88,192.01 868.17,191.58 870.03,191.58"/>
<polygon class="one" points="887.33,215.35 884.42,215.35 884.42,196.76 883.28,197.76 881.77,198.81 880.12,199.76 878.58,200.44 878.58,197.62 880.74,196.45 882.63,195.05 884.16,193.56 885.18,192.01 885.47,191.58 887.33,191.58"/>
<circle cx="1115" cy="102.5" r="29"/>
<polygon class="one" points="1108.27,114.1 1105.35,114.1 1105.35,95.51 1104.22,96.51 1102.71,97.56 1101.05,98.51 1099.51,99.19 1099.51,96.37 1101.67,95.2 1103.57,93.8 1105.09,92.31 1106.11,90.76 1106.4,90.33 1108.27,90.33"/>
<text x="1113.2" y="114.1">2</text>
<circle cx="1410.9" cy="68.6" r="29"/>
<polygon class="one" points="1404.06,82.2 1401.14,82.2 1401.14,63.61 1400.01,64.61 1398.5,65.66 1396.85,66.61 1395.31,67.29 1395.31,64.47 1397.46,63.3 1399.36,61.9 1400.88,60.41 1401.9,58.86 1402.2,58.43 1404.06,58.43"/>
<text x="1408.99" y="82.2">3</text>
<circle cx="1523" cy="297.5" r="29"/>
<polygon class="one" points="1516.16,309.1 1513.24,309.1 1513.24,290.51 1512.11,291.51 1510.6,292.56 1508.95,293.51 1507.41,294.19 1507.41,291.37 1509.56,290.2 1511.46,288.8 1512.98,287.31 1514,285.76 1514.3,285.33 1516.16,285.33"/>
<text x="1521.09" y="309.1">3</text>
<circle cx="1178.75" cy="811.6" r="29"/>
<polygon class="one" points="1170.66,821.7 1167.74,821.7 1167.74,803.11 1166.61,804.11 1165.1,805.16 1163.45,806.11 1161.91,806.79 1161.91,803.97 1164.06,802.8 1165.96,801.4 1167.48,799.91 1168.51,798.36 1168.8,797.93 1170.66,797.93"/>
<text x="1175.59" y="821.7">4</text>
<circle cx="927" cy="877.25" r="29"/>
<polygon class="one" points="920.13,888.85 917.21,888.85 917.21,870.26 916.07,871.26 914.57,872.31 912.91,873.26 911.37,873.94 911.37,871.12 913.53,869.95 915.43,868.55 916.95,867.06 917.97,865.51 918.26,865.08 920.13,865.08"/>
<text x="925.06" y="888.85">5</text>
<circle cx="935.9" cy="615.9" r="29"/>
<polygon class="one" points="929.06,627.5 926.14,627.5 926.14,608.91 925.01,609.91 923.5,610.96 921.85,611.91 920.31,612.59 920.31,609.77 922.46,608.6 924.36,607.2 925.88,605.71 926.9,604.16 927.2,603.73 929.06,603.73"/>
<text x="933.99" y="627.5">6</text>
</g>
<line x1="0" y1="1827.5" x2="1600" y2="1827.5" stroke="#e6e0ea" stroke-width="1" stroke-dasharray="2 2"/>
</svg>
</body></html>
